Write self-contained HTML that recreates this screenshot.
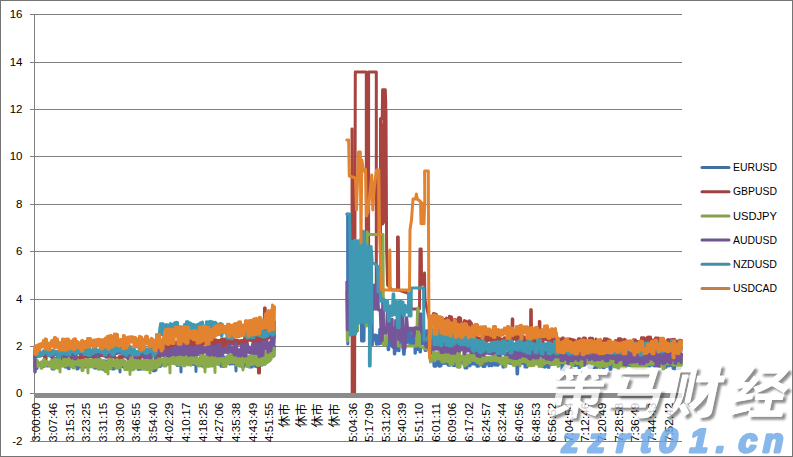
<!DOCTYPE html><html><head><meta charset="utf-8"><style>
html,body{margin:0;padding:0;background:#fff;}
#c{position:relative;width:793px;height:457px;overflow:hidden;background:#fff;}
svg{position:absolute;left:0;top:0;}
</style></head><body><div id="c">
<svg width="793" height="457" viewBox="0 0 793 457" font-family='"Liberation Sans", "Noto Sans CJK SC", sans-serif'>
<path d="M30 14.5H682 M30 62.5H682 M30 109.5H682 M30 156.5H682 M30 204.5H682 M30 251.5H682 M30 299.5H682 M30 346.5H682 M30 441.5H682" stroke="#808080" stroke-width="1" fill="none"/>
<path d="M34.5 14V441.5M30 393.5H34" stroke="#808080" stroke-width="1" fill="none"/>
<text x="22.5" y="17.8" font-size="11.5" text-anchor="end" fill="#000">16</text>
<text x="22.5" y="65.8" font-size="11.5" text-anchor="end" fill="#000">14</text>
<text x="22.5" y="112.8" font-size="11.5" text-anchor="end" fill="#000">12</text>
<text x="22.5" y="159.8" font-size="11.5" text-anchor="end" fill="#000">10</text>
<text x="22.5" y="207.8" font-size="11.5" text-anchor="end" fill="#000">8</text>
<text x="22.5" y="254.8" font-size="11.5" text-anchor="end" fill="#000">6</text>
<text x="22.5" y="302.8" font-size="11.5" text-anchor="end" fill="#000">4</text>
<text x="22.5" y="349.8" font-size="11.5" text-anchor="end" fill="#000">2</text>
<text x="22.5" y="396.8" font-size="11.5" text-anchor="end" fill="#000">0</text>
<text x="22.5" y="444.8" font-size="11.5" text-anchor="end" fill="#000">-2</text>
<text transform="translate(40.3 402.8) rotate(-90)" font-size="11" text-anchor="end" textLength="39.2" lengthAdjust="spacingAndGlyphs" fill="#000">3:00:00</text>
<text transform="translate(56.9 402.8) rotate(-90)" font-size="11" text-anchor="end" textLength="39.2" lengthAdjust="spacingAndGlyphs" fill="#000">3:07:46</text>
<text transform="translate(73.6 402.8) rotate(-90)" font-size="11" text-anchor="end" textLength="39.2" lengthAdjust="spacingAndGlyphs" fill="#000">3:15:31</text>
<text transform="translate(90.2 402.8) rotate(-90)" font-size="11" text-anchor="end" textLength="39.2" lengthAdjust="spacingAndGlyphs" fill="#000">3:23:25</text>
<text transform="translate(106.9 402.8) rotate(-90)" font-size="11" text-anchor="end" textLength="39.2" lengthAdjust="spacingAndGlyphs" fill="#000">3:31:15</text>
<text transform="translate(123.5 402.8) rotate(-90)" font-size="11" text-anchor="end" textLength="39.2" lengthAdjust="spacingAndGlyphs" fill="#000">3:39:00</text>
<text transform="translate(140.1 402.8) rotate(-90)" font-size="11" text-anchor="end" textLength="39.2" lengthAdjust="spacingAndGlyphs" fill="#000">3:46:55</text>
<text transform="translate(156.8 402.8) rotate(-90)" font-size="11" text-anchor="end" textLength="39.2" lengthAdjust="spacingAndGlyphs" fill="#000">3:54:40</text>
<text transform="translate(173.4 402.8) rotate(-90)" font-size="11" text-anchor="end" textLength="39.2" lengthAdjust="spacingAndGlyphs" fill="#000">4:02:29</text>
<text transform="translate(190.1 402.8) rotate(-90)" font-size="11" text-anchor="end" textLength="39.2" lengthAdjust="spacingAndGlyphs" fill="#000">4:10:17</text>
<text transform="translate(206.7 402.8) rotate(-90)" font-size="11" text-anchor="end" textLength="39.2" lengthAdjust="spacingAndGlyphs" fill="#000">4:18:25</text>
<text transform="translate(223.3 402.8) rotate(-90)" font-size="11" text-anchor="end" textLength="39.2" lengthAdjust="spacingAndGlyphs" fill="#000">4:27:06</text>
<text transform="translate(240.0 402.8) rotate(-90)" font-size="11" text-anchor="end" textLength="39.2" lengthAdjust="spacingAndGlyphs" fill="#000">4:35:38</text>
<text transform="translate(256.6 402.8) rotate(-90)" font-size="11" text-anchor="end" textLength="39.2" lengthAdjust="spacingAndGlyphs" fill="#000">4:43:49</text>
<text transform="translate(273.3 402.8) rotate(-90)" font-size="11" text-anchor="end" textLength="39.2" lengthAdjust="spacingAndGlyphs" fill="#000">4:51:55</text>
<text transform="translate(289.0 403.5) rotate(-90)" font-family='"Noto Sans CJK SC", sans-serif' font-size="12" text-anchor="end" fill="#000">休市</text>
<text transform="translate(305.6 403.5) rotate(-90)" font-family='"Noto Sans CJK SC", sans-serif' font-size="12" text-anchor="end" fill="#000">休市</text>
<text transform="translate(322.3 403.5) rotate(-90)" font-family='"Noto Sans CJK SC", sans-serif' font-size="12" text-anchor="end" fill="#000">休市</text>
<text transform="translate(338.9 403.5) rotate(-90)" font-family='"Noto Sans CJK SC", sans-serif' font-size="12" text-anchor="end" fill="#000">休市</text>
<text transform="translate(356.5 402.8) rotate(-90)" font-size="11" text-anchor="end" textLength="39.2" lengthAdjust="spacingAndGlyphs" fill="#000">5:04:36</text>
<text transform="translate(373.1 402.8) rotate(-90)" font-size="11" text-anchor="end" textLength="39.2" lengthAdjust="spacingAndGlyphs" fill="#000">5:17:09</text>
<text transform="translate(389.7 402.8) rotate(-90)" font-size="11" text-anchor="end" textLength="39.2" lengthAdjust="spacingAndGlyphs" fill="#000">5:31:20</text>
<text transform="translate(406.4 402.8) rotate(-90)" font-size="11" text-anchor="end" textLength="39.2" lengthAdjust="spacingAndGlyphs" fill="#000">5:40:39</text>
<text transform="translate(423.0 402.8) rotate(-90)" font-size="11" text-anchor="end" textLength="39.2" lengthAdjust="spacingAndGlyphs" fill="#000">5:51:10</text>
<text transform="translate(439.7 402.8) rotate(-90)" font-size="11" text-anchor="end" textLength="39.2" lengthAdjust="spacingAndGlyphs" fill="#000">6:01:11</text>
<text transform="translate(456.3 402.8) rotate(-90)" font-size="11" text-anchor="end" textLength="39.2" lengthAdjust="spacingAndGlyphs" fill="#000">6:09:06</text>
<text transform="translate(472.9 402.8) rotate(-90)" font-size="11" text-anchor="end" textLength="39.2" lengthAdjust="spacingAndGlyphs" fill="#000">6:17:02</text>
<text transform="translate(489.6 402.8) rotate(-90)" font-size="11" text-anchor="end" textLength="39.2" lengthAdjust="spacingAndGlyphs" fill="#000">6:24:57</text>
<text transform="translate(506.2 402.8) rotate(-90)" font-size="11" text-anchor="end" textLength="39.2" lengthAdjust="spacingAndGlyphs" fill="#000">6:32:44</text>
<text transform="translate(522.9 402.8) rotate(-90)" font-size="11" text-anchor="end" textLength="39.2" lengthAdjust="spacingAndGlyphs" fill="#000">6:40:56</text>
<text transform="translate(539.5 402.8) rotate(-90)" font-size="11" text-anchor="end" textLength="39.2" lengthAdjust="spacingAndGlyphs" fill="#000">6:48:53</text>
<text transform="translate(556.1 402.8) rotate(-90)" font-size="11" text-anchor="end" textLength="39.2" lengthAdjust="spacingAndGlyphs" fill="#000">6:56:52</text>
<text transform="translate(572.8 402.8) rotate(-90)" font-size="11" text-anchor="end" textLength="39.2" lengthAdjust="spacingAndGlyphs" fill="#000">7:04:54</text>
<text transform="translate(589.4 402.8) rotate(-90)" font-size="11" text-anchor="end" textLength="39.2" lengthAdjust="spacingAndGlyphs" fill="#000">7:12:46</text>
<text transform="translate(606.1 402.8) rotate(-90)" font-size="11" text-anchor="end" textLength="39.2" lengthAdjust="spacingAndGlyphs" fill="#000">7:20:49</text>
<text transform="translate(622.7 402.8) rotate(-90)" font-size="11" text-anchor="end" textLength="39.2" lengthAdjust="spacingAndGlyphs" fill="#000">7:28:58</text>
<text transform="translate(639.3 402.8) rotate(-90)" font-size="11" text-anchor="end" textLength="39.2" lengthAdjust="spacingAndGlyphs" fill="#000">7:36:49</text>
<text transform="translate(656.0 402.8) rotate(-90)" font-size="11" text-anchor="end" textLength="39.2" lengthAdjust="spacingAndGlyphs" fill="#000">7:44:43</text>
<text transform="translate(672.6 402.8) rotate(-90)" font-size="11" text-anchor="end" textLength="39.2" lengthAdjust="spacingAndGlyphs" fill="#000">7:52:42</text>
<g fill="none" stroke-width="3" stroke-linejoin="round" stroke-linecap="round">
<path d="M34.5 362.8 35.0 372.0 35.0 368.8 35.5 363.0 36.0 368.5 36.5 362.7 37.0 368.5 37.5 363.3 38.0 363.8 38.5 363.5 39.0 363.9 39.5 363.3 40.0 364.0 40.5 363.2 41.0 364.1 41.5 364.1 42.0 366.9 42.5 364.6 43.0 366.8 43.5 364.4 44.0 366.5 44.5 361.7 45.0 364.5 45.5 361.1 46.0 364.1 46.5 361.6 47.0 365.9 47.5 363.0 48.0 366.1 48.5 362.5 49.0 365.8 49.5 362.5 50.0 364.6 50.5 364.1 51.0 364.6 51.5 364.0 52.0 368.9 52.5 361.5 53.0 369.0 53.5 361.1 54.0 369.2 54.5 361.3 55.0 367.8 55.5 361.3 56.0 367.8 56.5 361.2 57.0 367.1 57.5 362.3 58.0 366.7 58.5 362.6 59.0 367.2 59.5 362.2 60.0 367.2 60.5 362.6 61.0 364.6 61.5 359.2 62.0 364.3 62.5 359.0 63.0 364.6 63.5 358.9 64.0 364.3 64.5 364.2 65.0 367.1 65.5 364.1 66.0 366.9 66.5 364.3 67.0 367.1 67.5 361.6 68.0 368.3 68.5 361.5 69.0 368.8 69.5 364.8 70.0 364.2 70.5 364.5 71.0 364.6 71.5 364.7 72.0 364.6 72.5 364.6 73.0 365.9 73.5 364.9 74.0 365.8 74.5 364.7 75.0 365.7 75.5 364.7 76.0 365.8 76.5 363.3 77.0 369.0 77.5 363.4 78.0 368.8 78.5 360.1 79.0 367.3 79.5 359.9 80.0 366.7 80.5 359.9 81.0 367.1 81.5 359.9 82.0 367.2 82.5 364.6 83.0 367.5 83.5 364.9 84.0 367.1 84.5 362.0 85.0 367.2 85.5 361.8 86.0 366.7 86.5 361.9 87.0 366.8 87.5 361.7 88.0 366.2 88.5 362.9 89.0 366.7 89.5 362.9 90.0 366.6 90.5 363.2 91.0 363.9 91.5 363.8 92.0 363.7 92.5 364.1 93.0 364.0 93.5 363.1 94.0 367.8 94.5 363.3 95.0 368.2 95.5 363.1 96.0 368.0 96.5 363.2 97.0 366.9 97.5 362.9 98.0 367.3 98.5 362.4 99.0 367.2 99.5 362.7 100.0 367.4 100.5 362.7 101.0 368.7 101.5 363.0 102.0 368.7 102.5 363.0 103.0 369.4 103.5 364.8 104.0 369.1 104.5 364.3 105.0 369.1 105.5 361.4 106.0 369.0 106.5 361.1 107.0 369.3 107.5 361.4 108.0 369.5 108.5 364.7 109.0 366.8 109.5 364.9 110.0 366.7 110.5 365.0 111.0 366.8 111.5 364.7 112.0 368.9 112.5 364.1 113.0 368.9 113.5 364.3 114.0 369.0 114.5 365.1 115.0 366.7 115.5 365.0 116.0 366.9 116.5 364.9 117.0 365.7 117.5 364.6 118.0 365.5 118.5 364.8 119.0 366.0 119.5 364.5 120.0 372.0 120.0 365.9 120.5 360.7 121.0 365.7 121.5 360.7 122.0 365.6 122.5 360.7 123.0 367.0 123.5 361.0 124.0 367.2 124.5 360.9 125.0 368.8 125.5 363.0 126.0 369.1 126.5 362.9 127.0 369.2 127.5 363.3 128.0 368.7 128.5 362.9 129.0 364.9 129.5 361.4 130.0 364.7 130.5 361.1 131.0 365.1 131.5 361.5 132.0 365.3 132.5 362.3 133.0 368.2 133.5 362.6 134.0 368.5 134.5 360.4 135.0 365.3 135.5 360.9 136.0 365.5 136.5 360.8 137.0 365.5 137.5 362.6 138.0 369.4 138.5 362.5 139.0 369.1 139.5 362.4 140.0 369.3 140.5 364.6 141.0 368.9 141.5 364.8 142.0 369.1 142.5 364.9 143.0 368.7 143.5 364.8 144.0 368.8 144.5 364.6 145.0 368.1 145.5 360.5 146.0 368.4 146.5 360.2 147.0 368.4 147.5 360.3 148.0 368.3 148.5 365.2 149.0 368.3 149.5 365.0 150.0 368.1 150.5 364.8 151.0 365.6 151.5 361.9 152.0 365.7 152.5 361.9 153.0 370.7 153.5 360.3 154.0 370.9 154.5 359.9 155.0 370.8 155.5 359.8 156.0 370.2 156.5 359.7 157.0 366.9 157.5 360.3 158.0 366.6 158.5 360.0 159.0 366.6 159.5 360.0 160.0 366.6 160.5 360.1 161.0 366.1 161.5 359.6 162.0 364.5 162.5 361.3 163.0 363.9 163.5 360.8 164.0 363.7 164.5 360.6 165.0 363.3 165.5 360.8 166.0 364.2 166.5 358.4 167.0 363.8 167.5 358.0 168.0 364.2 168.5 358.4 169.0 362.5 169.5 358.6 170.0 362.3 170.5 359.1 171.0 362.7 171.5 359.0 172.0 362.2 172.5 358.1 173.0 363.4 173.5 358.3 174.0 363.4 174.5 359.2 175.0 362.4 175.5 359.5 176.0 362.4 176.5 359.2 177.0 365.4 177.5 358.4 178.0 365.6 178.5 358.2 179.0 365.3 179.5 358.0 180.0 361.8 180.5 357.1 181.0 372.0 181.0 361.5 181.5 357.4 182.0 361.4 182.5 357.2 183.0 361.8 183.5 357.4 184.0 363.2 184.5 357.9 185.0 363.4 185.5 357.9 186.0 363.2 186.5 358.4 187.0 362.9 187.5 358.4 188.0 363.0 188.5 358.4 189.0 362.9 189.5 358.5 190.0 363.2 190.5 361.0 191.0 364.4 191.5 361.3 192.0 364.4 192.5 361.5 193.0 364.5 193.5 357.5 194.0 364.1 194.5 357.3 195.0 364.1 195.5 357.4 196.0 371.5 196.0 364.5 196.5 357.1 197.0 364.2 197.5 359.6 198.0 365.6 198.5 359.7 199.0 365.7 199.5 359.9 200.0 365.5 200.5 359.8 201.0 365.8 201.5 361.5 202.0 366.0 202.5 361.3 203.0 365.8 203.5 361.1 204.0 366.0 204.5 358.6 205.0 362.5 205.5 358.6 206.0 362.7 206.5 359.0 207.0 362.4 207.5 358.6 208.0 362.6 208.5 361.8 209.0 362.0 209.5 361.5 210.0 361.8 210.5 361.5 211.0 361.8 211.5 358.8 212.0 364.6 212.5 358.5 213.0 365.0 213.5 358.5 214.0 364.6 214.5 358.2 215.0 364.0 215.5 360.8 216.0 363.6 216.5 360.9 217.0 363.8 217.5 361.1 218.0 364.0 218.5 360.9 219.0 363.9 219.5 357.3 220.0 363.6 220.5 357.2 221.0 366.3 221.5 356.4 222.0 366.2 222.5 356.5 223.0 366.4 223.5 356.6 224.0 366.4 224.5 360.6 225.0 364.1 225.5 360.3 226.0 364.3 226.5 360.4 227.0 363.3 227.5 356.7 228.0 363.5 228.5 357.0 229.0 363.7 229.5 356.0 230.0 364.2 230.5 356.5 231.0 363.7 231.5 356.3 232.0 363.7 232.5 356.1 233.0 363.8 233.5 357.5 234.0 363.9 234.5 357.6 235.0 363.8 235.5 357.5 236.0 371.0 236.0 362.6 236.5 356.6 237.0 362.7 237.5 356.2 238.0 362.5 238.5 356.2 239.0 362.4 239.5 356.3 240.0 364.1 240.5 360.5 241.0 364.1 241.5 360.3 242.0 366.9 242.5 359.3 243.0 367.1 243.5 359.1 244.0 366.9 244.5 359.3 245.0 365.0 245.5 359.9 246.0 364.9 246.5 360.0 247.0 365.4 247.5 359.8 248.0 365.2 248.5 356.5 249.0 366.9 249.5 356.3 250.0 367.1 250.5 356.3 251.0 366.8 251.5 356.1 252.0 367.1 252.5 360.3 253.0 364.9 253.5 360.0 254.0 364.5 254.5 356.7 255.0 366.3 255.5 356.4 256.0 366.4 256.5 356.9 257.0 366.8 257.5 356.7 258.0 366.4 258.5 358.9 259.0 363.7 259.5 358.8 260.0 363.9 260.5 358.6 261.0 363.9 261.5 358.6 262.0 365.2 262.5 353.8 263.0 364.5 263.5 353.0 264.0 363.7 264.5 352.1 265.0 364.0 265.5 356.9 266.0 362.9 266.5 355.9 267.0 362.3 267.5 354.9 268.0 361.6 268.5 352.5 269.0 360.5 269.5 351.8 270.0 355.4 270.5 349.0 271.0 354.4 271.5 348.5 272.0 354.1 272.5 347.4 273.0 356.7 273.5 346.7 274.0 355.9 274.5 346.1" stroke="#4274b4"/>
<path d="M346.8 214.0 347.6 214.0 347.8 344.0 348.5 300.0 361.0 300.0 361.5 341.0 364.0 341.0 364.5 300.0 372.0 300.0 372.4 345.0 372.5 335.6 373.6 335.6 374.2 339.9 374.7 339.9 375.1 334.9 375.6 334.9 376.3 344.2 377.2 344.2 377.5 335.8 378.4 335.8 379.1 344.1 379.4 344.1 379.7 329.4 381.1 329.4 381.8 343.3 383.1 343.3 383.7 342.2 385.0 342.2 385.4 342.5 386.2 342.5 386.9 335.6 387.7 335.6 388.1 349.7 388.8 349.7 389.1 340.0 390.3 340.0 391.1 345.2 392.1 345.2 392.7 328.3 393.9 328.3 394.3 354.0 394.9 354.0 395.4 330.3 396.2 330.3 396.8 350.3 397.2 350.3 397.7 330.0 398.3 330.0 398.6 350.8 399.0 350.8 399.5 342.3 400.3 342.3 400.9 341.1 401.3 341.1 401.5 339.7 402.9 339.7 403.5 354.3 404.2 354.3 405.0 341.1 406.3 341.1 406.6 342.4 407.3 342.4 407.9 328.3 409.4 328.3 410.0 344.7 410.5 344.7 411.1 335.9 412.1 335.9 412.5 344.6 413.2 344.6 413.6 328.8 414.7 328.8 415.0 353.2 415.4 353.2 416.0 335.5 416.9 335.5 417.1 349.5 417.8 349.5 418.1 326.1 419.6 326.1 419.9 351.9 420.5 351.9 421.1 328.0 421.9 328.0 422.3 343.7 422.6 343.7 423.0 336.1 424.5 336.1 425.0 350.4 426.1 350.4 426.5 330.8 427.4 330.8 428.2 347.4 428.8 347.4 429.4 344.5 430.0 344.5 430.5 353.7 431.1 353.7 431.5 336.5 432.2 336.5 433.5 358.5 434.0 366.2 434.5 358.4 435.0 366.3 435.5 358.2 436.0 366.2 436.5 360.0 437.0 363.4 437.5 359.6 438.0 363.9 438.5 355.5 439.0 366.2 439.5 355.5 440.0 366.3 440.5 355.5 441.0 366.0 441.5 357.5 442.0 363.6 442.5 357.7 443.0 363.4 443.5 357.4 444.0 363.3 444.5 357.6 445.0 363.5 445.5 356.9 446.0 363.1 446.5 356.8 447.0 363.0 447.5 357.3 448.0 365.1 448.5 357.6 449.0 365.4 449.5 357.4 450.0 365.3 450.5 357.5 451.0 363.7 451.5 357.1 452.0 364.0 452.5 357.5 453.0 365.5 453.5 357.6 454.0 365.7 454.5 357.3 455.0 365.5 455.5 357.7 456.0 365.4 456.5 358.0 457.0 363.1 457.5 357.0 458.0 362.8 458.5 356.8 459.0 362.9 459.5 357.1 460.0 363.2 460.5 356.8 461.0 363.1 461.5 358.7 462.0 363.0 462.5 358.4 463.0 362.9 463.5 358.8 464.0 363.1 464.5 358.6 465.0 368.1 465.5 358.6 466.0 368.0 466.5 358.6 467.0 367.9 467.5 358.2 468.0 363.4 468.5 358.5 469.0 363.3 469.5 358.9 470.0 366.0 470.0 363.6 470.5 358.9 471.0 363.7 471.5 358.8 472.0 364.0 472.5 359.6 473.0 363.9 473.5 359.3 474.0 363.9 474.5 357.9 475.0 364.2 475.5 358.1 476.0 364.0 476.5 361.4 477.0 366.3 477.5 361.6 478.0 366.3 478.5 361.4 479.0 366.1 479.5 358.5 480.0 364.4 480.5 358.2 481.0 364.7 481.5 358.3 482.0 364.8 482.5 358.5 483.0 366.6 483.5 361.4 484.0 366.5 484.5 361.3 485.0 366.4 485.5 358.5 486.0 364.2 486.5 358.6 487.0 363.6 487.5 358.8 488.0 364.1 488.5 358.3 489.0 365.9 489.5 358.2 490.0 365.6 490.5 358.1 491.0 365.5 491.5 358.2 492.0 365.8 492.5 357.6 493.0 362.9 493.5 357.4 494.0 362.9 494.5 357.5 495.0 365.2 495.5 359.2 496.0 365.1 496.5 359.3 497.0 365.2 497.5 359.2 498.0 365.3 498.5 359.3 499.0 363.7 499.5 358.3 500.0 363.8 500.5 358.3 501.0 363.7 501.5 358.4 502.0 363.8 502.5 359.3 503.0 367.2 503.5 359.5 504.0 366.7 504.5 359.6 505.0 366.9 505.5 359.5 506.0 362.6 506.5 357.4 507.0 362.2 507.5 357.7 508.0 362.4 508.5 356.1 509.0 363.0 509.5 356.4 510.0 363.4 510.5 356.2 511.0 362.9 511.5 356.2 512.0 363.4 512.5 358.1 513.0 362.9 513.5 357.9 514.0 362.9 514.5 358.0 515.0 364.7 515.5 357.2 516.0 364.6 516.5 356.9 517.0 374.0 517.0 364.7 517.5 356.7 517.6 374.0 518.0 364.7 518.5 357.7 519.0 363.7 519.5 357.6 520.0 363.9 520.5 357.3 521.0 363.2 521.5 356.3 522.0 363.4 522.5 356.3 523.0 363.1 523.5 356.6 524.0 363.3 524.5 358.4 525.0 367.1 525.5 358.6 526.0 366.8 526.5 358.5 527.0 367.1 527.5 359.7 528.0 365.4 528.5 359.4 529.0 365.5 529.5 359.8 530.0 365.0 530.5 358.1 531.0 363.6 531.5 358.1 532.0 363.5 532.5 358.5 533.0 363.6 533.5 358.3 534.0 363.8 534.5 356.8 535.0 363.1 535.5 357.2 536.0 363.4 536.5 357.0 537.0 363.5 537.5 356.8 538.0 363.3 538.5 356.8 539.0 365.1 539.5 356.8 540.0 365.3 540.5 356.8 541.0 365.1 541.5 357.1 542.0 365.4 542.5 360.9 543.0 366.6 543.5 360.9 544.0 366.9 544.5 360.8 545.0 367.2 545.5 358.7 546.0 366.5 546.5 358.4 547.0 366.3 547.5 358.3 548.0 367.3 548.5 356.5 549.0 367.5 549.5 356.9 550.0 364.5 550.5 357.8 551.0 364.5 551.5 357.5 552.0 364.5 552.5 357.6 553.0 364.2 553.5 357.4 554.0 362.8 554.5 358.4 555.0 363.1 555.5 358.7 556.0 362.7 556.5 358.7 557.0 362.7 557.5 356.7 558.0 364.3 558.5 356.7 559.0 363.8 559.5 356.9 560.0 364.2 560.5 357.1 561.0 364.4 561.5 358.9 562.0 369.9 562.5 358.8 563.0 369.8 563.5 358.7 564.0 370.1 564.5 359.2 565.0 366.2 565.5 359.5 566.0 366.0 566.5 359.2 567.0 366.0 567.5 359.4 568.0 365.8 568.5 359.3 569.0 365.7 569.5 357.7 570.0 365.6 570.5 358.0 571.0 366.0 571.5 357.9 572.0 365.2 572.5 357.8 573.0 365.4 573.5 357.9 574.0 365.2 574.5 357.4 575.0 365.7 575.5 360.3 576.0 365.3 576.5 360.6 577.0 365.3 577.5 360.8 578.0 365.4 578.5 360.3 579.0 367.8 579.5 358.2 580.0 367.4 580.5 358.4 581.0 365.3 581.5 358.0 582.0 365.7 582.5 358.2 583.0 365.5 583.5 357.8 584.0 365.3 584.5 357.9 585.0 362.7 585.5 362.1 586.0 362.7 586.5 362.0 587.0 362.6 587.5 362.0 588.0 362.7 588.5 361.3 589.0 367.6 589.5 360.8 590.0 367.2 590.5 361.2 591.0 367.6 591.5 360.3 592.0 367.0 592.5 360.0 593.0 366.9 593.5 360.2 594.0 367.6 594.5 357.6 595.0 367.3 595.5 357.9 596.0 367.2 596.5 358.0 597.0 367.4 597.5 359.0 598.0 366.9 598.5 358.7 599.0 366.6 599.5 358.9 600.0 363.7 600.5 359.3 601.0 363.8 601.5 359.4 602.0 363.6 602.5 358.0 603.0 367.8 603.5 357.8 604.0 368.3 604.5 358.1 605.0 366.8 605.5 357.9 606.0 366.7 606.5 357.7 607.0 366.0 607.5 357.9 608.0 365.7 608.5 358.1 609.0 365.5 609.5 358.4 610.0 369.4 610.5 362.8 611.0 369.3 611.5 362.9 612.0 365.0 612.5 360.6 613.0 365.0 613.5 360.5 614.0 365.2 614.5 360.6 615.0 364.0 615.5 358.3 616.0 364.1 616.5 358.4 617.0 366.9 617.5 358.9 618.0 366.4 618.5 358.9 619.0 366.4 619.5 358.9 620.0 366.9 620.5 359.2 621.0 366.6 621.5 359.2 622.0 367.0 622.5 359.4 623.0 366.9 623.5 358.6 624.0 366.7 624.5 358.6 625.0 367.2 625.5 358.5 626.0 366.8 626.5 362.9 627.0 363.6 627.5 362.7 628.0 364.0 628.5 360.5 629.0 365.4 629.5 360.5 630.0 365.6 630.5 360.6 631.0 365.1 631.5 358.5 632.0 365.3 632.5 358.4 633.0 365.6 633.5 358.3 634.0 364.8 634.5 358.0 635.0 364.7 635.5 357.9 636.0 368.4 636.5 357.9 637.0 368.5 637.5 357.9 638.0 367.8 638.5 361.5 639.0 368.1 639.5 361.1 640.0 367.8 640.5 361.3 641.0 367.9 641.5 360.1 642.0 367.9 642.5 360.4 643.0 368.1 643.5 360.1 644.0 368.3 644.5 360.6 645.0 364.4 645.5 362.0 646.0 364.4 646.5 361.9 647.0 366.2 647.5 359.8 648.0 365.8 648.5 359.8 649.0 366.2 649.5 359.8 650.0 366.2 650.5 359.6 651.0 364.7 651.5 363.0 652.0 364.7 652.5 362.9 653.0 364.6 653.5 362.2 654.0 366.3 654.5 362.4 655.0 366.4 655.5 362.5 656.0 366.1 656.5 362.7 657.0 365.7 657.5 362.9 658.0 365.9 658.5 362.8 659.0 365.9 659.5 362.7 660.0 365.7 660.5 360.7 661.0 365.2 661.5 361.1 662.0 365.5 662.5 360.7 663.0 365.2 663.5 360.9 664.0 367.4 664.5 363.5 665.0 367.4 665.5 363.5 666.0 367.3 666.5 362.7 667.0 365.7 667.5 363.1 668.0 365.7 668.5 363.1 669.0 366.1 669.5 363.0 670.0 365.8 670.5 361.8 671.0 365.4 671.5 361.8 672.0 365.6 672.5 361.4 673.0 368.4 673.5 363.5 674.0 368.8 674.5 363.7 675.0 368.8 675.5 363.2 676.0 369.0 676.5 363.3 677.0 368.2 677.5 363.0 678.0 368.6 678.5 363.0 679.0 368.4 679.5 363.1 680.0 368.4 680.5 359.3 681.0 365.7 681.5 359.2" stroke="#4274b4"/>
<path d="M34.5 357.5 35.0 358.2 35.5 357.3 36.0 357.9 36.5 356.4 37.0 356.2 37.5 356.3 38.0 356.2 38.5 355.8 39.0 355.8 39.5 356.2 40.0 355.9 40.5 356.0 41.0 355.9 41.5 355.1 42.0 355.3 42.5 355.0 43.0 355.2 43.5 354.9 44.0 355.2 44.5 356.3 45.0 359.1 45.5 356.3 46.0 359.5 46.5 354.0 47.0 355.5 47.5 353.8 48.0 355.4 48.5 354.0 49.0 355.6 49.5 354.5 50.0 355.5 50.5 355.0 51.0 355.9 51.5 354.7 52.0 355.8 52.5 358.7 53.0 359.8 53.5 358.4 54.0 359.7 54.5 358.7 55.0 359.6 55.5 358.2 56.0 358.7 56.5 357.6 57.0 358.8 57.5 358.1 58.0 359.1 58.5 358.0 59.0 358.8 59.5 357.7 60.0 358.7 60.5 355.1 61.0 358.6 61.5 355.3 62.0 358.5 62.5 355.1 63.0 358.5 63.5 355.2 64.0 359.6 64.5 355.1 65.0 360.0 65.5 355.4 66.0 355.1 66.5 352.4 67.0 355.2 67.5 352.4 68.0 355.9 68.5 354.8 69.0 355.9 69.5 354.8 70.0 355.4 70.5 354.0 71.0 358.5 71.5 354.0 72.0 358.6 72.5 354.3 73.0 358.6 73.5 356.9 74.0 359.6 74.5 356.7 75.0 359.7 75.5 356.6 76.0 359.4 76.5 357.4 77.0 357.9 77.5 357.9 78.0 357.7 78.5 357.8 79.0 357.4 79.5 357.8 80.0 357.7 80.5 355.9 81.0 358.8 81.5 355.7 82.0 358.5 82.5 355.7 83.0 358.7 83.5 357.1 84.0 357.0 84.5 357.1 85.0 357.0 85.5 357.1 86.0 357.1 86.5 357.0 87.0 357.3 87.5 357.5 88.0 357.5 88.5 357.5 89.0 357.4 89.5 354.4 90.0 356.4 90.5 353.9 91.0 356.2 91.5 354.2 92.0 356.4 92.5 357.3 93.0 357.5 93.5 357.4 94.0 357.4 94.5 357.7 95.0 357.7 95.5 356.2 96.0 357.6 96.5 356.1 97.0 358.2 97.5 356.0 98.0 355.6 98.5 355.3 99.0 355.4 99.5 355.5 100.0 355.3 100.5 355.4 101.0 355.5 101.5 355.3 102.0 355.6 102.5 355.7 103.0 355.7 103.5 355.7 104.0 355.6 104.5 356.0 105.0 355.9 105.5 355.9 106.0 357.3 106.5 356.8 107.0 356.8 107.5 357.1 108.0 357.2 108.5 356.9 109.0 354.6 109.5 354.1 110.0 354.9 110.5 353.8 111.0 355.0 111.5 355.7 112.0 355.8 112.5 355.5 113.0 355.8 113.5 355.7 114.0 355.5 114.5 355.9 115.0 358.5 115.5 358.5 116.0 358.1 116.5 358.5 117.0 358.5 117.5 358.4 118.0 357.9 118.5 358.1 119.0 358.8 119.5 356.5 120.0 358.8 120.5 356.7 121.0 358.7 121.5 356.8 122.0 358.8 122.5 353.7 123.0 356.4 123.5 353.9 124.0 356.8 124.5 353.7 125.0 354.9 125.5 354.5 126.0 355.1 126.5 354.7 127.0 355.3 127.5 354.8 128.0 355.2 128.5 355.5 129.0 356.7 129.5 355.8 130.0 356.7 130.5 355.9 131.0 359.2 131.5 358.5 132.0 358.7 132.5 358.8 133.0 359.0 133.5 358.6 134.0 358.6 134.5 357.6 135.0 357.7 135.5 357.6 136.0 357.4 136.5 357.3 137.0 359.3 137.5 357.7 138.0 359.2 138.5 357.8 139.0 359.2 139.5 357.7 140.0 359.3 140.5 354.6 141.0 357.1 141.5 354.3 142.0 356.9 142.5 354.3 143.0 355.4 143.5 355.4 144.0 355.4 144.5 355.7 145.0 355.3 145.5 355.5 146.0 355.5 146.5 355.4 147.0 358.2 147.5 355.3 148.0 358.4 148.5 355.1 149.0 355.6 149.5 355.5 150.0 355.4 150.5 355.5 151.0 355.5 151.5 355.8 152.0 354.9 152.5 354.7 153.0 355.1 153.5 354.3 154.0 354.9 154.5 354.1 155.0 354.4 155.5 352.7 156.0 357.9 156.5 355.1 157.0 357.2 157.5 353.9 158.0 357.3 158.5 352.9 159.0 356.9 159.5 345.4 160.0 356.8 160.5 344.7 161.0 356.0 161.5 344.2 162.0 351.1 162.5 346.7 163.0 350.7 163.5 346.3 164.0 354.0 164.5 346.1 165.0 353.2 165.5 345.5 166.0 352.7 166.5 344.2 167.0 352.4 167.5 343.5 168.0 351.7 168.5 342.9 169.0 349.4 169.5 345.0 170.0 348.5 170.5 344.7 171.0 348.3 171.5 343.6 172.0 348.1 172.5 343.3 173.0 347.9 173.5 342.6 174.0 347.0 174.5 342.3 175.0 346.3 175.5 342.2 176.0 346.4 176.5 342.0 177.0 346.2 177.5 342.0 178.0 344.9 178.5 341.0 179.0 344.9 179.5 341.3 180.0 345.3 180.5 341.0 181.0 345.2 181.5 341.1 182.0 345.0 182.5 339.3 183.0 345.3 183.5 339.6 184.0 345.5 184.5 339.3 185.0 346.5 185.5 339.6 186.0 346.7 186.5 339.4 187.0 346.7 187.5 339.2 188.0 346.5 188.5 337.3 189.0 344.2 189.5 337.2 190.0 343.8 190.5 338.6 191.0 347.9 191.5 338.6 192.0 347.9 192.5 338.3 193.0 347.6 193.5 338.3 194.0 348.2 194.5 342.6 195.0 347.9 195.5 342.5 196.0 348.4 196.5 342.7 197.0 346.4 197.5 338.5 198.0 346.7 198.5 338.1 199.0 346.5 199.5 338.1 200.0 346.7 200.5 338.4 201.0 347.9 201.5 342.8 202.0 348.1 202.5 342.7 203.0 343.9 203.5 339.0 204.0 344.1 204.5 338.8 205.0 344.1 205.5 338.4 206.0 343.9 206.5 338.5 207.0 344.1 207.5 341.0 208.0 346.9 208.5 341.4 209.0 346.8 209.5 341.3 210.0 344.1 210.5 341.9 211.0 344.4 211.5 341.7 212.0 348.0 212.5 339.7 213.0 348.1 213.5 339.3 214.0 346.2 214.5 339.9 215.0 346.2 215.5 339.7 216.0 346.2 216.5 340.1 217.0 346.7 217.5 340.7 218.0 346.5 218.5 340.6 219.0 346.2 219.5 340.6 220.0 346.5 220.5 340.2 221.0 345.9 221.5 338.8 222.0 345.3 222.5 338.9 223.0 345.7 223.5 338.9 224.0 345.3 224.5 338.9 225.0 345.4 225.5 339.0 226.0 345.1 226.5 338.8 227.0 343.9 227.5 337.8 228.0 343.7 228.5 338.0 229.0 343.6 229.5 337.9 230.0 343.4 230.5 337.4 231.0 343.8 231.5 337.9 232.0 343.5 232.5 337.9 233.0 343.8 233.5 338.2 234.0 343.8 234.5 340.1 235.0 344.3 235.5 340.2 236.0 344.4 236.5 340.2 237.0 344.6 237.5 340.2 238.0 344.3 238.5 340.7 239.0 344.2 239.5 341.1 240.0 344.0 240.5 340.7 241.0 344.3 241.5 340.5 242.0 344.6 242.5 340.4 243.0 344.4 243.5 340.9 244.0 344.1 244.5 338.4 245.0 344.6 245.5 338.6 246.0 344.6 246.5 338.9 247.0 344.3 247.5 338.6 248.0 340.4 248.5 337.5 249.0 340.3 249.5 337.6 250.0 340.1 250.5 338.8 251.0 340.5 251.5 338.9 252.0 340.4 252.5 336.4 253.0 342.4 253.5 336.4 254.0 342.6 254.5 336.6 255.0 342.3 255.5 334.6 256.0 342.0 256.5 334.7 257.0 342.4 257.5 334.7 258.0 343.9 258.5 373.0 258.5 339.4 259.0 344.0 259.5 373.0 259.5 338.1 260.0 343.6 260.5 337.2 261.0 341.9 261.5 333.4 262.0 341.5 262.5 331.9 263.0 341.5 263.5 330.6 264.0 341.6 264.5 308.0 264.5 329.6 265.0 340.7 265.2 308.0 265.5 328.2 266.0 340.7 266.5 327.0 267.0 340.3 267.5 328.1 268.0 338.3 268.5 327.3 269.0 338.0 269.5 329.1 270.0 336.8 270.5 328.1 271.0 336.2 271.5 327.5 272.0 336.1 272.5 322.9 273.0 337.9 273.5 321.9 274.0 337.6 274.5 321.7" stroke="#a8443f"/>
<path d="M352.0 129.0 352.2 396.0 354.6 396.0 355.3 72.0 366.3 72.0 366.3 300.0 368.6 300.0 368.6 72.0 376.3 72.0 376.3 290.0 380.5 290.0 380.5 118.6 382.2 118.6 382.6 89.7 385.3 89.7 385.8 105.0 380.2 222.0 381.6 125.0 382.8 224.0 384.0 100.0 385.0 222.0 386.0 110.0 386.6 250.0 387.6 285.0 392.0 290.0 397.5 290.0 397.5 237.0 398.3 237.0 398.7 290.0 410.5 294.0 411.0 309.0 419.5 309.0 420.0 249.0 421.2 249.0 421.6 285.0 424.5 273.0 425.0 300.0 429.0 318.0 433.0 316.0 433.5 313.6 434.0 316.4 434.5 313.7 435.0 316.6 435.5 313.9 436.0 316.6 436.5 314.5 437.0 316.8 437.5 317.3 438.0 317.3 438.5 317.5 439.0 317.5 439.5 317.7 440.0 317.6 440.5 317.7 441.0 317.8 441.5 319.3 442.0 319.3 442.5 319.1 443.0 319.1 443.5 319.5 444.0 320.3 444.5 319.6 445.0 320.6 445.5 319.7 446.0 320.3 446.5 318.0 447.0 320.6 447.5 318.6 448.0 321.1 448.5 318.6 449.0 323.4 449.5 316.3 450.0 323.5 450.5 316.7 451.0 324.2 451.5 317.1 452.0 320.2 452.5 320.1 453.0 320.3 453.5 320.4 454.0 320.8 454.5 319.7 455.0 324.3 455.5 319.6 456.0 324.3 456.5 320.2 457.0 324.5 457.5 320.2 458.0 322.3 458.5 317.7 459.0 322.5 459.5 317.6 460.0 322.7 460.5 317.9 461.0 323.0 461.5 322.5 462.0 328.5 462.5 322.9 463.0 328.9 463.5 323.3 464.0 326.1 464.5 320.6 465.0 326.2 465.5 321.2 466.0 326.2 466.5 321.3 467.0 323.7 467.5 323.6 468.0 323.8 468.5 324.3 469.0 325.7 469.5 320.7 470.0 326.1 470.5 321.8 471.0 327.6 471.5 323.3 472.0 329.4 472.5 325.2 473.0 333.9 473.5 330.1 474.0 335.7 474.5 331.7 475.0 337.3 475.5 333.2 476.0 337.9 476.5 332.7 477.0 339.9 477.5 334.0 478.0 341.9 478.5 338.3 479.0 344.5 479.5 338.2 480.0 344.7 480.5 338.0 481.0 344.8 481.5 338.4 482.0 342.8 482.5 338.9 483.0 342.9 483.5 338.4 484.0 343.0 484.5 338.4 485.0 343.0 485.5 334.9 486.0 341.6 486.5 335.2 487.0 341.3 487.5 334.7 488.0 339.8 488.5 337.0 489.0 340.2 489.5 336.5 490.0 340.0 490.5 336.9 491.0 340.0 491.5 336.5 492.0 343.8 492.5 336.3 493.0 343.8 493.5 336.0 494.0 343.5 494.5 334.6 495.0 339.8 495.5 334.3 496.0 340.0 496.5 335.8 497.0 339.9 497.5 335.7 498.0 340.4 498.5 335.8 499.0 340.3 499.5 338.8 500.0 342.8 500.5 338.7 501.0 342.9 501.5 338.9 502.0 341.6 502.5 339.4 503.0 341.8 503.5 339.5 504.0 341.7 504.5 337.7 505.0 340.1 505.5 338.2 506.0 339.9 506.5 338.2 507.0 340.1 507.5 337.8 508.0 341.3 508.5 336.2 509.0 341.5 509.5 336.3 510.0 346.1 510.5 333.9 511.0 346.0 511.5 334.2 512.0 345.9 512.2 319.0 512.5 336.7 512.8 319.0 513.0 339.1 513.5 336.7 514.0 339.2 514.5 336.5 515.0 338.9 515.5 336.8 516.0 339.4 516.5 336.5 517.0 339.5 517.5 336.2 518.0 339.2 518.5 336.5 519.0 339.0 519.5 335.9 520.0 343.4 520.5 336.3 521.0 343.3 521.5 336.0 522.0 343.3 522.5 336.3 523.0 343.1 523.5 336.8 524.0 340.3 524.5 337.1 525.0 339.8 525.5 338.6 526.0 341.8 526.5 338.9 527.0 341.4 527.5 338.7 528.0 341.4 528.5 338.6 529.0 341.5 529.5 335.5 530.0 342.2 530.5 335.2 530.7 309.7 531.0 342.1 531.3 309.7 531.5 335.3 532.0 342.2 532.5 336.3 533.0 344.0 533.5 336.3 534.0 344.0 534.5 336.8 535.0 344.4 535.5 336.3 536.0 342.1 536.5 337.3 537.0 342.1 537.5 337.2 538.0 339.4 538.5 337.1 539.0 339.6 539.3 321.4 539.5 337.2 539.9 321.4 540.0 339.6 540.5 337.4 541.0 341.7 541.5 335.3 542.0 342.2 542.5 335.3 543.0 341.8 543.5 338.9 544.0 339.6 544.5 338.9 545.0 339.3 545.5 339.2 546.0 339.6 546.5 336.8 547.0 340.1 547.5 336.2 548.0 340.4 548.5 336.8 549.0 340.5 549.5 336.5 550.0 340.4 550.5 338.5 551.0 341.4 551.5 338.9 552.0 341.5 552.5 338.8 553.0 341.6 553.5 338.5 554.0 341.6 554.5 337.4 555.0 341.8 555.5 337.8 556.0 342.1 556.5 338.1 557.0 344.1 557.5 338.5 558.0 344.4 558.5 339.3 559.0 345.2 559.5 339.0 560.0 345.6 560.5 339.1 561.0 345.7 561.5 339.1 562.0 345.9 562.5 338.1 563.0 342.5 563.5 338.1 564.0 342.1 564.5 342.6 565.0 343.8 565.5 342.6 566.0 343.3 566.5 342.4 567.0 343.5 567.5 339.1 568.0 344.8 568.5 338.9 569.0 344.8 569.5 339.0 570.0 344.8 570.5 339.0 571.0 345.2 571.5 339.4 572.0 345.4 572.5 339.6 573.0 345.4 573.5 340.4 574.0 345.5 574.5 340.1 575.0 345.3 575.5 341.1 576.0 344.9 576.5 340.9 577.0 344.7 577.5 340.8 578.0 344.9 578.5 338.8 579.0 346.7 579.5 338.7 580.0 346.7 580.5 338.9 581.0 347.1 581.5 341.3 582.0 347.2 582.5 341.5 583.0 346.8 583.5 337.9 584.0 347.0 584.5 338.0 585.0 347.0 585.5 338.3 586.0 346.9 586.5 341.2 587.0 344.4 587.5 341.3 588.0 344.6 588.5 341.4 589.0 344.7 589.5 338.2 590.0 345.0 590.5 338.0 591.0 345.0 591.5 338.4 592.0 345.2 592.5 338.3 593.0 344.2 593.5 342.6 594.0 344.4 594.5 342.1 595.0 344.3 595.5 342.5 596.0 339.0 596.0 344.0 596.5 342.3 597.0 344.6 597.5 340.6 598.0 344.5 598.5 340.5 599.0 344.7 599.5 340.8 600.0 344.9 600.5 340.6 601.0 346.0 601.5 340.8 602.0 346.1 602.5 341.6 603.0 343.9 603.5 341.4 604.0 344.2 604.5 338.7 605.0 344.7 605.5 338.8 606.0 344.7 606.5 338.9 607.0 344.9 607.5 339.0 608.0 342.5 608.5 342.5 609.0 343.0 609.5 342.1 610.0 340.0 610.0 342.6 610.5 342.3 611.0 342.4 611.5 342.6 612.0 346.5 612.5 342.6 613.0 346.4 613.5 342.6 614.0 346.3 614.5 342.1 615.0 342.4 615.5 340.6 616.0 342.5 616.5 340.7 617.0 342.6 617.5 340.6 618.0 342.4 618.5 338.7 619.0 343.9 619.5 338.7 620.0 344.3 620.5 338.8 621.0 344.4 621.5 339.2 622.0 346.9 622.5 342.5 623.0 346.9 623.5 342.3 624.0 345.8 624.5 339.3 625.0 345.9 625.5 339.8 626.0 345.8 626.5 342.1 627.0 345.6 627.5 342.3 628.0 345.8 628.5 342.3 629.0 345.4 629.5 341.8 630.0 346.8 630.5 342.1 631.0 346.7 631.5 342.1 632.0 346.6 632.5 342.1 633.0 345.8 633.5 339.8 634.0 345.7 634.5 339.9 635.0 345.6 635.5 340.1 636.0 343.2 636.5 342.1 637.0 343.4 637.5 341.6 638.0 343.6 638.5 341.6 639.0 342.2 639.5 341.6 640.0 342.0 640.5 341.1 641.0 341.9 641.5 337.7 642.0 345.1 642.5 337.8 643.0 345.2 643.5 337.7 644.0 345.1 644.5 337.9 645.0 345.4 645.5 339.6 646.0 342.6 646.5 339.4 647.0 342.8 647.5 337.3 648.0 345.6 648.5 337.1 649.0 345.6 649.5 337.6 650.0 345.4 650.5 337.1 651.0 345.7 651.5 340.2 652.0 342.5 652.5 340.0 653.0 342.3 653.5 340.2 654.0 342.4 654.5 340.3 655.0 342.6 655.5 338.0 656.0 344.1 656.5 338.0 657.0 344.2 657.5 338.2 658.0 344.0 658.5 338.0 659.0 342.8 659.5 341.2 660.0 342.4 660.5 341.4 661.0 342.6 661.5 341.4 662.0 342.6 662.5 341.4 663.0 346.3 663.5 341.7 664.0 346.3 664.5 341.9 665.0 348.9 665.5 341.6 666.0 348.6 666.5 341.4 667.0 348.5 667.5 339.8 668.0 346.2 668.5 339.5 669.0 346.0 669.5 340.0 670.0 346.2 670.5 339.7 671.0 342.9 671.5 339.7 672.0 342.5 672.5 339.5 673.0 343.6 673.5 339.4 674.0 343.6 674.5 339.2 675.0 342.7 675.5 340.9 676.0 343.2 676.5 341.1 677.0 343.1 677.5 341.2 678.0 342.7 678.5 341.0 679.0 344.5 679.5 340.2 680.0 344.5 680.5 340.2 681.0 344.4 681.5 340.5" stroke="#a8443f"/>
<path d="M34.5 358.6 35.0 365.7 35.5 358.6 36.0 366.0 36.5 360.9 37.0 366.2 37.5 360.5 38.0 366.1 38.5 363.1 39.0 364.9 39.5 362.7 40.0 365.2 40.5 363.2 41.0 368.2 41.5 361.8 42.0 368.2 42.5 361.4 43.0 366.3 43.5 359.8 44.0 365.8 44.5 359.4 45.0 366.0 45.5 361.2 46.0 364.3 46.5 361.7 47.0 364.5 47.5 361.7 48.0 364.2 48.5 362.4 49.0 366.0 49.5 361.9 50.0 366.1 50.5 362.2 51.0 366.4 51.5 360.2 52.0 367.8 52.5 360.3 53.0 368.1 53.5 360.6 54.0 368.3 54.5 359.1 55.0 367.7 55.5 359.0 56.0 367.7 56.5 359.4 57.0 367.6 57.5 359.3 58.0 368.2 58.5 359.1 59.0 368.1 59.5 358.9 60.0 372.0 60.0 368.3 60.5 361.9 61.0 366.4 61.5 361.7 62.0 366.1 62.5 361.8 63.0 366.1 63.5 358.5 64.0 366.0 64.5 358.8 65.0 366.1 65.5 358.4 66.0 365.9 66.5 359.2 67.0 364.8 67.5 359.1 68.0 364.9 68.5 359.4 69.0 364.9 69.5 359.4 70.0 364.7 70.5 360.9 71.0 366.4 71.5 361.0 72.0 366.4 72.5 360.9 73.0 368.0 73.5 359.7 74.0 367.9 74.5 360.1 75.0 364.7 75.5 359.7 76.0 364.4 76.5 359.8 77.0 364.3 77.5 359.5 78.0 364.8 78.5 361.1 79.0 365.2 79.5 360.7 80.0 365.3 80.5 361.0 81.0 364.8 81.5 360.5 82.0 370.7 82.5 360.2 83.0 370.4 83.5 360.6 84.0 366.3 84.5 360.2 85.0 366.1 85.5 360.6 86.0 366.1 86.5 360.4 87.0 365.6 87.5 359.7 88.0 373.0 88.0 365.9 88.5 359.5 89.0 366.1 89.5 359.7 90.0 366.2 90.5 359.7 91.0 367.0 91.5 360.3 92.0 366.6 92.5 360.1 93.0 366.6 93.5 360.0 94.0 367.1 94.5 360.1 95.0 366.1 95.5 359.5 96.0 366.0 96.5 359.4 97.0 366.0 97.5 359.2 98.0 369.1 98.5 359.3 99.0 369.2 99.5 358.9 100.0 369.3 100.5 359.1 101.0 368.3 101.5 360.7 102.0 368.1 102.5 360.8 103.0 367.9 103.5 360.6 104.0 368.3 104.5 360.6 105.0 371.4 105.5 362.2 106.0 371.6 106.5 362.4 107.0 371.2 107.5 362.1 108.0 374.0 108.0 365.0 108.5 360.0 109.0 364.8 109.5 360.1 110.0 368.5 110.5 358.5 111.0 368.8 111.5 358.1 112.0 365.6 112.5 360.7 113.0 365.5 113.5 360.8 114.0 365.6 114.5 360.6 115.0 365.6 115.5 361.0 116.0 368.3 116.5 359.7 117.0 368.3 117.5 359.5 118.0 367.7 118.5 361.8 119.0 367.3 119.5 361.7 120.0 367.5 120.5 360.5 121.0 365.1 121.5 360.3 122.0 364.9 122.5 360.4 123.0 365.1 123.5 360.2 124.0 365.3 124.5 362.4 125.0 369.7 125.5 362.1 126.0 369.4 126.5 362.2 127.0 369.7 127.5 362.6 128.0 367.6 128.5 357.9 129.0 367.3 129.5 357.6 130.0 374.5 130.0 367.7 130.5 358.0 131.0 369.5 131.5 358.9 132.0 369.9 132.5 358.5 133.0 369.7 133.5 358.8 134.0 369.5 134.5 358.4 135.0 367.9 135.5 360.8 136.0 368.1 136.5 360.8 137.0 368.0 137.5 361.0 138.0 368.1 138.5 360.6 139.0 367.5 139.5 362.2 140.0 367.8 140.5 361.9 141.0 367.8 141.5 360.6 142.0 368.4 142.5 360.8 143.0 368.4 143.5 360.5 144.0 369.3 144.5 358.7 145.0 368.9 145.5 359.0 146.0 369.4 146.5 360.0 147.0 369.6 147.5 359.9 148.0 369.6 148.5 360.1 149.0 369.5 149.5 359.6 150.0 373.0 150.0 369.5 150.5 357.3 151.0 369.4 151.5 357.1 152.0 369.6 152.5 360.3 153.0 368.3 153.5 360.5 154.0 367.9 154.5 360.2 155.0 367.8 155.5 359.8 156.0 367.8 156.5 359.5 157.0 367.7 157.5 358.8 158.0 367.1 158.5 359.1 159.0 365.5 159.5 358.9 160.0 365.0 160.5 359.8 161.0 362.4 161.5 359.6 162.0 362.2 162.5 359.1 163.0 361.9 163.5 359.0 164.0 366.1 164.5 355.4 165.0 366.0 165.5 354.9 166.0 366.0 166.5 354.7 167.0 362.6 167.5 357.1 168.0 362.3 168.5 357.1 169.0 361.3 169.5 354.9 170.0 373.0 170.0 361.1 170.5 355.4 171.0 361.4 171.5 354.9 172.0 361.6 172.5 358.9 173.0 363.7 173.5 359.2 174.0 363.5 174.5 359.0 175.0 363.7 175.5 355.8 176.0 364.3 176.5 355.8 177.0 364.4 177.5 355.8 178.0 364.3 178.5 355.8 179.0 365.3 179.5 354.3 180.0 364.9 180.5 354.1 181.0 364.9 181.5 355.9 182.0 363.3 182.5 355.8 183.0 363.5 183.5 356.2 184.0 366.0 184.5 356.6 185.0 365.7 185.5 356.7 186.0 363.4 186.5 356.9 187.0 363.3 187.5 357.2 188.0 364.8 188.5 357.1 189.0 364.8 189.5 357.1 190.0 364.7 190.5 356.9 191.0 365.3 191.5 354.1 192.0 362.9 192.5 354.0 193.0 362.7 193.5 354.5 194.0 363.1 194.5 354.2 195.0 362.7 195.5 354.5 196.0 364.0 196.5 354.2 197.0 363.8 197.5 358.8 198.0 365.7 198.5 358.8 199.0 366.0 199.5 358.8 200.0 365.7 200.5 355.5 201.0 364.0 201.5 355.1 202.0 363.9 202.5 355.0 203.0 363.8 203.5 355.5 204.0 367.5 204.5 356.4 205.0 372.0 205.0 367.5 205.5 356.1 206.0 367.2 206.5 356.2 207.0 366.2 207.5 355.4 208.0 366.3 208.5 355.2 209.0 366.5 209.5 355.1 210.0 366.1 210.5 357.2 211.0 365.8 211.5 356.7 212.0 366.1 212.5 356.8 213.0 366.0 213.5 357.0 214.0 362.4 214.5 357.6 215.0 372.5 215.0 362.1 215.5 357.3 216.0 362.1 216.5 357.6 217.0 362.3 217.5 354.8 218.0 364.3 218.5 354.9 219.0 364.3 219.5 359.0 220.0 361.4 220.5 358.7 221.0 361.2 221.5 358.6 222.0 361.5 222.5 358.6 223.0 366.1 223.5 358.8 224.0 366.1 224.5 358.7 225.0 366.2 225.5 358.8 226.0 366.5 226.5 356.7 227.0 363.5 227.5 356.6 228.0 363.6 228.5 354.5 229.0 362.2 229.5 354.8 230.0 362.6 230.5 355.0 231.0 362.4 231.5 354.6 232.0 362.3 232.5 354.2 233.0 362.4 233.5 354.5 234.0 362.4 234.5 354.5 235.0 362.3 235.5 356.9 236.0 365.1 236.5 356.7 237.0 364.8 237.5 356.9 238.0 365.4 238.5 358.7 239.0 366.0 239.5 358.7 240.0 366.2 240.5 355.1 241.0 363.1 241.5 355.0 242.0 363.3 242.5 358.4 243.0 370.0 243.0 361.4 243.5 358.2 244.0 361.5 244.5 358.2 245.0 361.5 245.5 357.8 246.0 361.9 246.5 356.3 247.0 366.4 247.5 356.5 248.0 366.5 248.5 356.6 249.0 366.6 249.5 356.7 250.0 363.8 250.5 355.7 251.0 363.9 251.5 355.9 252.0 364.6 252.5 354.2 253.0 364.3 253.5 353.8 254.0 364.2 254.5 354.3 255.0 362.9 255.5 356.4 256.0 362.6 256.5 356.9 257.0 365.3 257.5 353.2 258.0 365.5 258.5 353.1 259.0 365.2 259.5 353.3 260.0 365.1 260.5 358.2 261.0 364.8 261.5 358.0 262.0 364.5 262.5 357.5 263.0 363.8 263.5 356.9 264.0 362.8 264.5 353.5 265.0 364.4 265.5 352.3 266.0 363.3 266.5 351.8 267.0 362.3 267.5 350.9 268.0 362.0 268.5 352.6 269.0 361.2 269.5 351.5 270.0 360.7 270.5 351.0 271.0 359.5 271.5 350.3 272.0 356.9 272.5 349.1 273.0 356.6 273.5 348.4 274.0 355.2 274.5 348.2" stroke="#8bab4a"/>
<path d="M346.8 292.0 347.3 341.0 347.8 300.0 355.5 300.0 356.0 331.0 357.5 331.0 358.0 300.0 365.5 300.0 366.0 326.0 366.8 326.0 367.2 232.0 368.0 234.5 383.0 234.5 383.4 345.0 386.2 345.0 387.0 330.0 394.5 333.0 395.0 334.0 397.5 334.0 398.0 346.0 416.5 346.0 417.5 312.0 418.0 308.0 419.0 317.0 419.5 346.0 429.0 350.0 430.5 362.0 433.0 356.0 433.5 352.0 434.0 360.7 434.5 352.1 435.0 360.8 435.5 353.1 436.0 359.2 436.5 353.2 437.0 358.8 437.5 352.7 438.0 358.8 438.5 353.3 439.0 358.8 439.5 349.3 440.0 359.5 440.5 349.7 441.0 359.3 441.5 355.5 442.0 362.1 442.5 355.0 443.0 362.1 443.5 355.4 444.0 362.1 444.5 351.5 445.0 360.7 445.5 352.0 446.0 361.2 446.5 352.1 447.0 361.0 447.5 352.1 448.0 361.7 448.5 354.8 449.0 361.9 449.5 354.7 450.0 365.0 450.0 362.1 450.5 354.8 451.0 361.7 451.5 354.6 452.0 364.4 452.5 351.9 453.0 364.1 453.5 351.5 454.0 361.3 454.5 352.5 455.0 361.1 455.5 352.7 456.0 361.1 456.5 352.0 457.0 367.0 457.5 351.6 458.0 367.0 458.5 352.2 459.0 367.4 459.5 351.8 460.0 367.1 460.5 356.2 461.0 359.6 461.5 356.5 462.0 359.7 462.5 356.8 463.0 359.6 463.5 354.8 464.0 365.8 464.5 355.1 465.0 365.9 465.5 356.8 466.0 364.8 466.5 357.4 467.0 364.6 467.5 355.1 468.0 362.1 468.5 355.2 469.0 362.4 469.5 355.3 470.0 362.5 470.5 353.5 471.0 360.5 471.5 353.5 472.0 360.2 472.5 353.8 473.0 360.2 473.5 353.9 474.0 360.5 474.5 354.7 475.0 360.4 475.5 354.6 476.0 360.1 476.5 353.9 477.0 362.3 477.5 354.1 478.0 362.6 478.5 354.1 479.0 362.6 479.5 353.9 480.0 365.0 480.0 362.1 480.5 355.6 481.0 363.5 481.5 355.6 482.0 363.6 482.5 355.4 483.0 361.3 483.5 356.6 484.0 361.3 484.5 356.8 485.0 361.2 485.5 357.1 486.0 361.0 486.5 357.3 487.0 360.0 487.5 357.8 488.0 360.3 488.5 357.4 489.0 360.0 489.5 357.6 490.0 360.6 490.5 358.1 491.0 360.9 491.5 357.8 492.0 360.6 492.5 358.1 493.0 360.3 493.5 354.4 494.0 360.4 494.5 354.8 495.0 360.4 495.5 354.5 496.0 360.6 496.5 354.6 497.0 361.1 497.5 356.7 498.0 360.9 498.5 356.8 499.0 361.2 499.5 353.2 500.0 363.0 500.5 353.3 501.0 363.0 501.5 358.0 502.0 364.0 502.5 357.9 503.0 363.8 503.5 358.1 504.0 364.3 504.5 358.0 505.0 366.4 505.5 355.2 506.0 366.2 506.5 355.3 507.0 360.9 507.5 353.6 508.0 361.4 508.5 354.2 509.0 361.5 509.5 355.6 510.0 362.2 510.5 356.0 511.0 362.2 511.5 356.0 512.0 361.9 512.5 355.7 513.0 365.2 513.5 357.1 514.0 365.2 514.5 357.0 515.0 365.7 515.5 356.7 516.0 364.0 516.5 355.3 517.0 364.3 517.5 355.2 518.0 362.8 518.5 357.2 519.0 363.0 519.5 357.0 520.0 366.0 520.0 363.0 520.5 357.0 521.0 361.0 521.5 356.5 522.0 361.5 522.5 356.7 523.0 361.3 523.5 356.2 524.0 361.5 524.5 356.1 525.0 361.9 525.5 356.4 526.0 362.0 526.5 356.5 527.0 361.7 527.5 359.2 528.0 365.6 528.5 359.1 529.0 365.3 529.5 359.0 530.0 365.7 530.5 358.8 531.0 365.7 531.5 358.3 532.0 365.6 532.5 358.2 533.0 365.7 533.5 358.5 534.0 365.5 534.5 358.6 535.0 363.9 535.5 357.1 536.0 363.9 536.5 357.5 537.0 364.0 537.5 357.7 538.0 364.1 538.5 355.8 539.0 366.5 539.5 356.3 540.0 366.0 540.0 366.3 540.5 356.2 541.0 366.5 541.5 356.3 542.0 366.7 542.5 355.6 543.0 363.6 543.5 356.0 544.0 363.8 544.5 355.8 545.0 363.7 545.5 356.1 546.0 362.3 546.5 355.6 547.0 362.5 547.5 355.8 548.0 362.6 548.5 356.2 549.0 362.8 549.5 356.0 550.0 364.1 550.5 358.8 551.0 364.2 551.5 358.9 552.0 364.1 552.5 360.6 553.0 364.4 553.5 360.7 554.0 364.6 554.5 360.8 555.0 364.4 555.5 360.7 556.0 363.2 556.5 357.6 557.0 363.7 557.5 357.9 558.0 366.4 558.5 358.7 559.0 365.9 559.5 358.7 560.0 362.7 560.5 357.1 561.0 362.4 561.5 356.9 562.0 362.5 562.5 356.8 563.0 362.9 563.5 357.1 564.0 362.9 564.5 358.2 565.0 363.3 565.5 357.9 566.0 363.1 566.5 358.3 567.0 363.0 567.5 358.2 568.0 366.8 568.5 358.8 569.0 367.0 569.5 359.0 570.0 367.0 570.5 359.0 571.0 366.6 571.5 356.7 572.0 365.7 572.5 356.4 573.0 365.8 573.5 358.9 574.0 362.7 574.5 359.0 575.0 362.4 575.5 359.0 576.0 362.3 576.5 358.9 577.0 363.6 577.5 356.4 578.0 363.4 578.5 356.5 579.0 363.6 579.5 356.4 580.0 363.5 580.5 357.2 581.0 366.2 581.5 357.2 582.0 365.9 582.5 357.5 583.0 363.5 583.5 356.9 584.0 363.9 584.5 356.8 585.0 363.6 585.5 357.0 586.0 363.0 586.5 357.2 587.0 362.7 587.5 357.1 588.0 362.9 588.5 357.2 589.0 363.2 589.5 357.0 590.0 364.2 590.5 356.9 591.0 364.1 591.5 356.9 592.0 363.9 592.5 356.8 593.0 364.3 593.5 358.0 594.0 364.4 594.5 358.2 595.0 364.2 595.5 357.9 596.0 364.6 596.5 358.2 597.0 365.9 597.5 358.7 598.0 366.0 598.5 358.6 599.0 366.2 599.5 358.4 600.0 368.0 600.0 366.4 600.5 358.0 601.0 366.1 601.5 359.4 602.0 365.6 602.5 359.0 603.0 365.6 603.5 359.4 604.0 366.5 604.5 357.4 605.0 366.6 605.5 357.4 606.0 366.3 606.5 357.3 607.0 366.3 607.5 357.4 608.0 364.3 608.5 358.8 609.0 364.3 609.5 358.6 610.0 364.4 610.5 358.7 611.0 363.0 611.5 356.8 612.0 363.0 612.5 357.2 613.0 363.4 613.5 360.0 614.0 366.8 614.5 360.2 615.0 366.9 615.5 360.3 616.0 366.8 616.5 360.1 617.0 366.9 617.5 358.2 618.0 368.2 618.5 358.4 619.0 368.0 619.5 358.5 620.0 368.2 620.5 358.2 621.0 367.7 621.5 356.3 622.0 368.1 622.5 356.4 623.0 368.2 623.5 356.6 624.0 368.1 624.5 356.5 625.0 365.2 625.5 360.0 626.0 365.1 626.5 360.0 627.0 365.0 627.5 360.1 628.0 364.8 628.5 359.6 629.0 363.5 629.5 357.0 630.0 363.1 630.5 357.1 631.0 363.0 631.5 356.9 632.0 367.8 632.5 359.5 633.0 367.4 633.5 359.7 634.0 367.7 634.5 357.6 635.0 367.6 635.5 357.7 636.0 367.5 636.5 357.4 637.0 367.9 637.5 357.5 638.0 364.3 638.5 361.4 639.0 364.3 639.5 361.3 640.0 368.0 640.0 366.5 640.5 360.6 641.0 366.6 641.5 360.6 642.0 366.6 642.5 360.6 643.0 368.6 643.5 359.5 644.0 368.2 644.5 359.4 645.0 368.1 645.5 359.0 646.0 368.0 646.5 359.1 647.0 364.3 647.5 359.5 648.0 364.7 648.5 359.0 649.0 363.8 649.5 358.0 650.0 364.2 650.5 357.9 651.0 364.3 651.5 359.7 652.0 363.9 652.5 359.7 653.0 364.0 653.5 357.9 654.0 364.2 654.5 358.2 655.0 364.0 655.5 357.9 656.0 363.9 656.5 357.8 657.0 366.1 657.5 357.6 658.0 366.6 658.5 357.7 659.0 366.6 659.5 357.7 660.0 366.4 660.5 359.5 661.0 364.0 661.5 359.8 662.0 364.0 662.5 359.6 663.0 369.0 663.5 360.9 664.0 368.7 664.5 360.9 665.0 363.6 665.5 358.9 666.0 363.9 666.5 358.8 667.0 363.6 667.5 358.8 668.0 363.7 668.5 357.7 669.0 363.9 669.5 357.3 670.0 363.8 670.5 357.4 671.0 363.9 671.5 357.2 672.0 364.1 672.5 360.6 673.0 365.0 673.5 360.5 674.0 364.8 674.5 360.5 675.0 365.0 675.5 360.9 676.0 365.1 676.5 360.4 677.0 365.4 677.5 360.0 678.0 365.4 678.5 360.4 679.0 365.8 679.5 354.6 680.0 365.5 680.5 354.7 681.0 365.5 681.5 355.0" stroke="#8bab4a"/>
<path d="M34.5 352.0 35.0 372.0 35.0 352.9 35.5 352.1 36.0 356.0 36.0 352.9 36.5 352.2 37.0 352.7 37.5 353.1 38.0 352.7 38.5 353.2 39.0 353.2 39.5 352.8 40.0 353.1 40.5 353.1 41.0 353.5 41.5 353.5 42.0 353.3 42.5 353.7 43.0 352.6 43.5 352.2 44.0 352.4 44.5 352.4 45.0 352.8 45.5 352.4 46.0 352.8 46.5 352.5 47.0 354.8 47.5 354.1 48.0 354.7 48.5 354.1 49.0 354.9 49.5 354.4 50.0 354.8 50.5 354.4 51.0 356.8 51.5 355.3 52.0 357.2 52.5 355.2 53.0 356.7 53.5 355.4 54.0 354.7 54.5 354.4 55.0 354.4 55.5 354.3 56.0 354.4 56.5 351.9 57.0 353.4 57.5 352.2 58.0 353.3 58.5 352.2 59.0 353.1 59.5 352.4 60.0 353.7 60.5 353.4 61.0 353.8 61.5 353.8 62.0 353.4 62.5 353.6 63.0 353.7 63.5 353.5 64.0 356.8 64.5 355.9 65.0 356.5 65.5 355.7 66.0 356.5 66.5 355.9 67.0 356.7 67.5 354.4 68.0 355.2 68.5 353.8 69.0 355.2 69.5 354.2 70.0 355.7 70.5 351.3 71.0 355.7 71.5 351.3 72.0 355.9 72.5 350.8 73.0 355.9 73.5 350.9 74.0 358.7 74.5 351.1 75.0 358.8 75.5 351.0 76.0 358.8 76.5 351.8 77.0 353.0 77.5 351.7 78.0 352.8 78.5 351.6 79.0 353.0 79.5 352.2 80.0 354.5 80.5 354.1 81.0 354.1 81.5 354.1 82.0 354.5 82.5 354.2 83.0 354.6 83.5 354.3 84.0 354.3 84.5 354.4 85.0 353.9 85.5 354.3 86.0 352.8 86.5 352.6 87.0 352.9 87.5 352.7 88.0 352.6 88.5 352.8 89.0 353.0 89.5 355.5 90.0 355.7 90.5 355.1 91.0 356.0 91.5 355.6 92.0 355.6 92.5 353.0 93.0 355.4 93.5 352.7 94.0 355.1 94.5 353.0 95.0 352.9 95.5 353.0 96.0 352.9 96.5 352.7 97.0 356.8 97.5 351.4 98.0 356.7 98.5 350.7 99.0 356.8 99.5 351.0 100.0 352.3 100.5 350.5 101.0 352.0 101.5 350.4 102.0 352.0 102.5 350.6 103.0 354.6 103.5 354.6 104.0 354.7 104.5 354.5 105.0 354.7 105.5 354.5 106.0 354.9 106.5 354.4 107.0 353.7 107.5 351.4 108.0 353.7 108.5 351.4 109.0 354.2 109.5 351.4 110.0 354.0 110.5 351.0 111.0 356.6 111.5 351.6 112.0 356.9 112.5 351.4 113.0 356.7 113.5 351.2 114.0 356.8 114.5 351.4 115.0 353.3 115.5 351.9 116.0 353.6 116.5 352.2 117.0 353.6 117.5 350.8 118.0 353.0 118.5 350.7 119.0 353.0 119.5 350.5 120.0 353.1 120.5 350.4 121.0 353.2 121.5 352.2 122.0 353.1 122.5 352.3 123.0 353.0 123.5 352.6 124.0 353.4 124.5 352.5 125.0 356.8 125.5 352.5 126.0 356.7 126.5 352.8 127.0 358.2 127.5 351.1 128.0 358.4 128.5 350.9 129.0 353.5 129.5 353.4 130.0 353.4 130.5 353.1 131.0 353.3 131.5 353.4 132.0 354.9 132.5 350.9 133.0 354.7 133.5 350.5 134.0 354.9 134.5 354.7 135.0 357.5 135.5 355.1 136.0 357.6 136.5 354.9 137.0 357.6 137.5 355.4 138.0 353.4 138.5 353.3 139.0 353.8 139.5 353.8 140.0 353.5 140.5 353.8 141.0 353.6 141.5 353.9 142.0 355.0 142.5 355.2 143.0 355.0 143.5 354.9 144.0 357.4 144.5 350.3 145.0 357.6 145.5 350.7 146.0 357.6 146.5 353.3 147.0 356.1 147.5 353.4 148.0 356.2 148.5 351.9 149.0 357.8 149.5 352.3 150.0 357.6 150.5 352.3 151.0 357.9 151.5 352.5 152.0 355.7 152.5 351.6 153.0 355.6 153.5 351.3 154.0 355.3 154.5 351.2 155.0 357.9 155.5 352.0 156.0 357.8 156.5 351.0 157.0 353.8 157.5 352.1 158.0 353.6 158.5 351.7 159.0 353.4 159.5 350.7 160.0 353.4 160.5 350.3 161.0 355.6 161.5 349.1 162.0 355.6 162.5 348.4 163.0 355.3 163.5 347.7 164.0 355.2 164.5 346.9 165.0 354.2 165.5 350.1 166.0 354.2 166.5 350.6 167.0 355.5 167.5 350.7 168.0 355.6 168.5 350.7 169.0 356.0 169.5 350.9 170.0 355.8 170.5 350.7 171.0 354.5 171.5 348.3 172.0 354.7 172.5 348.3 173.0 354.6 173.5 347.6 174.0 355.0 174.5 347.6 175.0 355.0 175.5 347.7 176.0 354.9 176.5 347.1 177.0 354.4 177.5 347.3 178.0 354.7 178.5 347.4 179.0 353.8 179.5 348.3 180.0 354.1 180.5 348.3 181.0 354.1 181.5 344.5 182.0 354.7 182.5 344.5 183.0 354.5 183.5 344.4 184.0 354.8 184.5 344.9 185.0 354.5 185.5 346.7 186.0 350.9 186.5 346.6 187.0 351.2 187.5 345.3 188.0 355.3 188.5 344.9 189.0 355.4 189.5 348.3 190.0 353.4 190.5 347.8 191.0 353.1 191.5 347.5 192.0 355.1 192.5 347.8 193.0 355.1 193.5 348.0 194.0 354.8 194.5 347.6 195.0 355.1 195.5 346.8 196.0 354.6 196.5 346.9 197.0 354.7 197.5 347.2 198.0 354.6 198.5 344.6 199.0 353.2 199.5 344.6 200.0 352.9 200.5 344.3 201.0 352.6 201.5 348.8 202.0 352.5 202.5 348.7 203.0 352.9 203.5 349.1 204.0 352.4 204.5 347.9 205.0 351.1 205.5 347.9 206.0 351.1 206.5 347.7 207.0 354.1 207.5 346.8 208.0 354.3 208.5 346.8 209.0 354.9 209.5 345.3 210.0 355.1 210.5 344.8 211.0 355.1 211.5 345.2 212.0 353.3 212.5 349.6 213.0 353.5 213.5 350.0 214.0 355.3 214.5 347.2 215.0 354.8 215.5 346.8 216.0 354.9 216.5 346.9 217.0 356.0 217.5 344.7 218.0 355.7 218.5 344.5 219.0 355.6 219.5 344.4 220.0 355.9 220.5 344.4 221.0 353.6 221.5 348.5 222.0 353.6 222.5 348.4 223.0 353.8 223.5 348.2 224.0 352.3 224.5 348.2 225.0 352.2 225.5 348.4 226.0 352.3 226.5 348.5 227.0 352.5 227.5 348.3 228.0 352.0 228.5 343.9 229.0 352.2 229.5 344.0 230.0 351.7 230.5 347.5 231.0 351.7 231.5 347.1 232.0 352.0 232.5 347.0 233.0 352.0 233.5 347.5 234.0 354.7 234.5 344.0 235.0 354.9 235.5 343.5 236.0 354.9 236.5 343.4 237.0 355.0 237.5 349.7 238.0 355.9 238.5 349.7 239.0 355.6 239.5 349.9 240.0 356.0 240.5 349.6 241.0 356.0 241.5 344.2 242.0 350.9 242.5 344.3 243.0 350.7 243.5 344.0 244.0 356.0 244.5 347.5 245.0 356.1 245.5 347.7 246.0 355.9 246.5 344.0 247.0 352.1 247.5 344.0 248.0 352.2 248.5 347.2 249.0 352.7 249.5 347.1 250.0 352.9 250.5 347.5 251.0 352.7 251.5 347.2 252.0 353.0 252.5 344.3 253.0 353.2 253.5 343.8 254.0 353.3 254.5 343.7 255.0 353.1 255.5 343.5 256.0 353.3 256.5 343.3 257.0 353.6 257.5 343.1 258.0 353.1 258.5 346.4 259.0 356.7 259.5 346.0 260.0 356.4 260.5 345.9 261.0 355.5 261.5 342.5 262.0 355.8 262.5 342.3 263.0 355.2 263.5 341.9 264.0 349.5 264.5 341.6 265.0 349.0 265.5 341.0 266.0 348.6 266.5 340.7 267.0 348.3 267.5 343.5 268.0 352.3 268.5 343.0 269.0 351.3 269.5 342.4 270.0 351.1 270.5 342.0 271.0 350.4 271.5 336.2 272.0 345.1 272.5 335.6 273.0 344.2 273.5 335.4 274.0 343.9 274.5 334.9" stroke="#765599"/>
<path d="M346.8 282.0 347.4 330.0 348.0 300.0 370.0 300.0 372.5 285.1 373.1 309.6 373.7 286.7 374.4 308.9 375.0 285.0 375.6 309.1 376.3 286.4 376.9 308.9 377.5 287.1 378.5 310.1 380.2 310.1 381.3 340.4 382.3 340.4 382.7 302.0 383.2 302.0 383.6 332.9 386.3 332.9 387.3 310.6 388.7 310.6 389.7 340.3 390.3 340.3 391.5 319.2 392.2 319.2 392.6 347.2 395.2 347.2 395.6 320.6 398.3 320.6 398.6 339.4 400.2 339.4 401.4 310.4 402.5 310.4 403.0 348.4 405.0 348.4 406.1 317.7 406.7 317.7 407.7 330.5 409.6 330.5 410.3 328.2 412.1 328.2 413.0 335.6 414.0 335.6 414.8 327.7 416.8 327.7 417.5 329.1 419.8 329.1 420.2 313.9 421.2 313.9 421.5 332.1 423.4 332.1 424.3 336.0 425.5 336.0 426.1 347.1 427.3 347.1 428.4 333.3 429.0 333.3 429.8 349.0 431.6 349.0 433.5 339.8 434.0 349.3 434.5 339.8 435.0 349.2 435.5 340.1 436.0 349.1 436.5 339.9 437.0 349.3 437.5 342.8 438.0 349.0 438.5 343.2 439.0 349.1 439.5 342.7 440.0 349.0 440.5 343.3 441.0 352.5 441.5 343.3 442.0 352.6 442.5 343.3 443.0 352.5 443.5 343.1 444.0 352.2 444.5 340.5 445.0 349.3 445.5 340.5 446.0 349.7 446.5 340.8 447.0 352.1 447.5 341.3 448.0 352.3 448.5 341.4 449.0 352.0 449.5 341.0 450.0 352.0 450.5 341.7 451.0 353.3 451.5 341.4 452.0 353.2 452.5 341.6 453.0 352.9 453.5 343.2 454.0 352.9 454.5 343.6 455.0 353.3 455.5 340.5 456.0 350.6 456.5 341.0 457.0 350.6 457.5 340.8 458.0 350.6 458.5 342.7 459.0 351.2 459.5 343.1 460.0 350.9 460.5 343.5 461.0 349.3 461.5 343.5 462.0 349.7 462.5 344.1 463.0 349.7 463.5 343.8 464.0 353.8 464.5 345.1 465.0 353.7 465.5 345.4 466.0 350.9 466.5 345.6 467.0 351.1 467.5 345.3 468.0 351.1 468.5 342.1 469.0 350.5 469.5 342.3 470.0 350.9 470.5 342.5 471.0 352.8 471.5 343.4 472.0 352.8 472.5 344.7 473.0 351.9 473.5 345.5 474.0 352.5 474.5 345.0 475.0 352.9 475.5 345.8 476.0 352.8 476.5 346.7 477.0 355.8 477.5 350.9 478.0 356.0 478.5 352.2 479.0 356.3 479.5 352.8 480.0 356.7 480.5 352.9 481.0 354.9 481.5 353.1 482.0 355.0 482.5 352.8 483.0 355.0 483.5 353.1 484.0 355.2 484.5 352.9 485.0 353.4 485.5 348.2 486.0 353.2 486.5 348.5 487.0 353.2 487.5 348.5 488.0 353.3 488.5 348.7 489.0 353.7 489.5 351.5 490.0 353.6 490.5 352.1 491.0 354.0 491.5 348.9 492.0 354.1 492.5 349.3 493.0 354.0 493.5 351.3 494.0 352.4 494.5 351.2 495.0 352.7 495.5 351.4 496.0 352.8 496.5 351.6 497.0 352.6 497.5 349.4 498.0 355.0 498.5 349.7 499.0 355.5 499.5 349.4 500.0 355.6 500.5 349.6 501.0 353.4 501.5 348.0 502.0 353.2 502.5 348.1 503.0 353.7 503.5 348.4 504.0 354.1 504.5 353.0 505.0 354.0 505.5 353.2 506.0 354.5 506.5 353.2 507.0 354.5 507.5 353.1 508.0 354.9 508.5 352.3 509.0 354.8 509.5 352.3 510.0 357.4 510.5 349.3 511.0 357.6 511.5 349.7 512.0 358.0 512.5 349.3 513.0 357.9 513.5 349.4 514.0 358.3 514.5 350.9 515.0 358.5 515.5 351.3 516.0 358.5 516.5 351.2 517.0 358.6 517.5 351.1 518.0 357.6 518.5 346.8 519.0 357.3 519.5 347.0 520.0 357.5 520.5 346.8 521.0 355.3 521.5 352.1 522.0 355.8 522.5 352.3 523.0 355.9 523.5 352.3 524.0 355.5 524.5 352.2 525.0 356.2 525.5 349.9 526.0 356.7 526.5 350.2 527.0 357.0 527.5 348.8 528.0 356.8 528.5 348.7 529.0 358.8 529.5 349.0 530.0 358.9 530.5 348.9 531.0 359.0 531.5 348.9 532.0 356.9 532.5 349.1 533.0 356.9 533.5 349.2 534.0 357.1 534.5 349.2 535.0 358.1 535.5 353.4 536.0 357.9 536.5 353.1 537.0 357.8 537.5 353.3 538.0 358.1 538.5 353.3 539.0 355.0 539.5 349.9 540.0 355.4 540.5 350.2 541.0 355.1 541.5 350.0 542.0 355.4 542.5 349.9 543.0 357.2 543.5 349.5 544.0 357.2 544.5 349.9 545.0 357.5 545.5 350.9 546.0 358.8 546.5 350.8 547.0 359.2 547.5 350.9 548.0 359.0 548.5 350.9 549.0 359.0 549.5 348.6 550.0 359.7 550.5 348.7 551.0 359.7 551.5 349.1 552.0 359.8 552.5 349.1 553.0 356.1 553.5 348.1 554.0 356.2 554.5 348.3 555.0 355.9 555.5 347.8 556.0 355.9 556.5 347.9 557.0 357.0 557.5 351.6 558.0 357.1 558.5 352.1 559.0 356.7 559.5 351.5 560.0 356.9 560.5 354.1 561.0 360.6 561.5 354.0 562.0 360.2 562.5 354.2 563.0 360.6 563.5 353.8 564.0 358.9 564.5 350.9 565.0 358.9 565.5 351.0 566.0 358.6 566.5 351.0 567.0 360.1 567.5 350.6 568.0 364.0 568.0 360.5 568.5 350.1 569.0 360.6 569.5 350.2 570.0 360.3 570.5 350.5 571.0 360.8 571.5 349.3 572.0 360.5 572.5 348.9 573.0 360.9 573.5 352.9 574.0 358.5 574.5 352.6 575.0 358.9 575.5 352.2 576.0 358.6 576.5 351.9 577.0 358.6 577.5 351.9 578.0 360.6 578.5 351.9 579.0 360.2 579.5 351.6 580.0 357.4 580.5 348.0 581.0 357.6 581.5 348.2 582.0 358.9 582.5 352.3 583.0 358.8 583.5 351.8 584.0 359.0 584.5 351.8 585.0 365.0 585.0 358.7 585.5 352.1 586.0 357.2 586.5 354.3 587.0 357.1 587.5 354.5 588.0 357.5 588.5 352.5 589.0 359.6 589.5 352.2 590.0 359.6 590.5 352.1 591.0 358.3 591.5 352.5 592.0 358.4 592.5 352.3 593.0 358.3 593.5 352.5 594.0 360.0 594.5 352.2 595.0 360.2 595.5 351.9 596.0 359.9 596.5 352.1 597.0 359.3 597.5 354.0 598.0 359.2 598.5 354.4 599.0 359.7 599.5 354.2 600.0 359.8 600.5 350.0 601.0 358.4 601.5 350.3 602.0 358.3 602.5 350.0 603.0 358.3 603.5 350.1 604.0 358.5 604.5 351.0 605.0 360.5 605.5 350.9 606.0 360.9 606.5 350.9 607.0 360.7 607.5 351.3 608.0 360.8 608.5 351.3 609.0 358.1 609.5 351.7 610.0 358.1 610.5 351.6 611.0 357.9 611.5 352.8 612.0 358.7 612.5 352.5 613.0 358.2 613.5 352.7 614.0 358.5 614.5 352.6 615.0 358.5 615.5 353.7 616.0 362.6 616.5 353.9 617.0 362.3 617.5 353.9 618.0 360.3 618.5 354.2 619.0 359.8 619.5 354.3 620.0 359.9 620.5 354.3 621.0 359.2 621.5 351.5 622.0 359.2 622.5 351.9 623.0 359.3 623.5 351.7 624.0 364.8 624.5 353.7 625.0 364.6 625.5 353.7 626.0 364.8 626.5 353.7 627.0 364.7 627.5 352.1 628.0 362.8 628.5 351.8 629.0 362.5 629.5 352.4 630.0 362.1 630.5 352.0 631.0 362.3 631.5 352.5 632.0 362.2 632.5 352.4 633.0 361.9 633.5 349.9 634.0 361.7 634.5 349.5 635.0 362.1 635.5 349.8 636.0 361.8 636.5 350.0 637.0 361.5 637.5 351.9 638.0 361.7 638.5 352.0 639.0 359.0 639.5 351.8 640.0 364.0 640.0 359.2 640.5 352.1 641.0 359.1 641.5 352.1 642.0 359.3 642.5 352.4 643.0 363.9 643.5 352.6 644.0 363.7 644.5 352.6 645.0 361.8 645.5 353.0 646.0 361.7 646.5 353.2 647.0 361.9 647.5 352.9 648.0 361.7 648.5 350.7 649.0 358.6 649.5 350.7 650.0 358.8 650.5 350.7 651.0 359.0 651.5 350.5 652.0 359.2 652.5 354.8 653.0 358.8 653.5 354.8 654.0 360.8 654.5 352.2 655.0 360.4 655.5 352.2 656.0 365.6 656.5 352.4 657.0 366.0 657.5 352.5 658.0 365.7 658.5 352.4 659.0 366.0 659.5 352.4 660.0 362.2 660.5 353.0 661.0 362.2 661.5 353.2 662.0 362.5 662.5 352.9 663.0 363.7 663.5 352.0 664.0 363.3 664.5 351.9 665.0 363.2 665.5 352.0 666.0 361.7 666.5 352.2 667.0 361.7 667.5 352.3 668.0 361.8 668.5 352.0 669.0 362.2 669.5 347.7 670.0 363.4 670.5 347.6 671.0 363.0 671.5 348.0 672.0 359.7 672.5 349.0 673.0 359.4 673.5 349.0 674.0 359.9 674.5 353.9 675.0 363.2 675.5 354.0 676.0 363.3 676.5 350.1 677.0 361.0 677.5 350.3 678.0 360.7 678.5 350.3 679.0 360.6 679.5 350.4 680.0 361.0 680.5 353.9 681.0 362.6 681.5 353.7" stroke="#765599"/>
<path d="M34.5 350.4 35.0 352.0 35.5 350.6 36.0 351.8 36.5 350.5 37.0 355.9 37.5 349.7 38.0 356.3 38.5 349.5 39.0 356.2 39.5 349.6 40.0 354.8 40.5 352.9 41.0 355.2 41.5 352.8 42.0 355.1 42.5 352.8 43.0 354.9 43.5 350.8 44.0 353.6 44.5 351.0 45.0 353.1 45.5 350.2 46.0 351.8 46.5 350.3 47.0 351.6 47.5 350.0 48.0 355.5 48.5 351.9 49.0 355.8 49.5 351.9 50.0 355.9 50.5 351.7 51.0 354.2 51.5 350.7 52.0 354.2 52.5 350.5 53.0 353.9 53.5 350.4 54.0 354.0 54.5 351.7 55.0 351.7 55.5 351.6 56.0 351.6 56.5 351.8 57.0 351.4 57.5 351.3 58.0 357.4 58.5 350.9 59.0 357.5 59.5 350.9 60.0 357.1 60.5 351.0 61.0 353.5 61.5 350.8 62.0 354.0 62.5 350.8 63.0 353.7 63.5 350.7 64.0 353.9 64.5 347.4 65.0 352.3 65.5 347.6 66.0 352.5 66.5 347.4 67.0 354.7 67.5 348.9 68.0 354.9 68.5 348.5 69.0 354.8 69.5 348.8 70.0 355.0 70.5 348.8 71.0 351.7 71.5 351.2 72.0 351.6 72.5 351.5 73.0 351.9 73.5 351.2 74.0 351.5 74.5 347.8 75.0 353.8 75.5 348.0 76.0 353.4 76.5 348.0 77.0 353.8 77.5 347.8 78.0 353.3 78.5 352.3 79.0 351.8 79.5 352.1 80.0 352.3 80.5 347.3 81.0 350.9 81.5 346.9 82.0 350.8 82.5 347.1 83.0 351.2 83.5 351.0 84.0 354.6 84.5 350.8 85.0 354.2 85.5 349.8 86.0 351.2 86.5 349.3 87.0 351.3 87.5 349.6 88.0 355.3 88.5 349.5 89.0 355.6 89.5 349.7 90.0 355.7 90.5 349.6 91.0 353.6 91.5 350.0 92.0 353.7 92.5 350.3 93.0 353.6 93.5 347.1 94.0 352.4 94.5 347.0 95.0 352.3 95.5 347.3 96.0 352.2 96.5 350.5 97.0 351.5 97.5 350.1 98.0 351.6 98.5 350.1 99.0 351.9 99.5 350.4 100.0 351.5 100.5 346.6 101.0 351.9 101.5 346.5 102.0 352.0 102.5 346.5 103.0 352.0 103.5 349.1 104.0 355.3 104.5 349.2 105.0 354.9 105.5 349.5 106.0 355.2 106.5 348.2 107.0 352.3 107.5 347.9 108.0 352.5 108.5 347.9 109.0 351.7 109.5 349.8 110.0 351.8 110.5 350.0 111.0 352.2 111.5 349.8 112.0 355.1 112.5 347.3 113.0 354.7 113.5 347.5 114.0 354.8 114.5 346.5 115.0 351.5 115.5 346.5 116.0 351.5 116.5 346.6 117.0 351.4 117.5 346.5 118.0 351.0 118.5 346.5 119.0 350.9 119.5 346.4 120.0 350.9 120.5 346.8 121.0 351.0 121.5 349.1 122.0 353.6 122.5 349.2 123.0 354.0 123.5 349.1 124.0 353.6 124.5 349.1 125.0 353.9 125.5 348.8 126.0 355.4 126.5 348.3 127.0 355.0 127.5 346.4 128.0 353.1 128.5 346.2 129.0 352.7 129.5 346.5 130.0 353.3 130.5 346.4 131.0 353.4 131.5 348.9 132.0 354.8 132.5 348.9 133.0 355.0 133.5 349.3 134.0 354.5 134.5 349.2 135.0 354.7 135.5 351.7 136.0 354.5 136.5 351.4 137.0 354.7 137.5 351.7 138.0 354.2 138.5 351.9 139.0 354.7 139.5 344.8 140.0 351.9 140.5 345.0 141.0 351.9 141.5 345.0 142.0 352.1 142.5 344.9 143.0 351.2 143.5 351.2 144.0 350.8 144.5 350.8 145.0 353.3 145.5 348.6 146.0 352.9 146.5 348.9 147.0 353.4 147.5 348.9 148.0 353.1 148.5 349.2 149.0 351.1 149.5 347.9 150.0 351.6 150.5 347.9 151.0 351.3 151.5 348.0 152.0 351.3 152.5 347.7 153.0 355.4 153.5 351.1 154.0 355.5 154.5 349.7 155.0 354.6 155.5 347.3 156.0 353.2 156.5 346.8 157.0 347.6 157.5 344.9 158.0 346.7 158.5 339.6 159.0 338.8 159.5 331.9 160.0 327.0 160.0 334.8 160.5 323.8 161.0 327.0 161.0 334.4 161.5 323.8 162.0 334.7 162.5 323.6 163.0 334.5 163.5 324.1 164.0 332.2 164.5 325.8 165.0 332.2 165.5 326.0 166.0 330.8 166.5 324.6 167.0 330.6 167.5 325.0 168.0 330.7 168.5 325.1 169.0 331.0 169.5 325.0 170.0 332.6 170.5 323.6 171.0 332.3 171.5 323.9 172.0 333.2 172.5 324.7 173.0 332.8 173.5 324.3 174.0 333.1 174.5 322.7 175.0 331.8 175.5 322.4 176.0 331.6 176.5 322.3 177.0 331.7 177.5 322.4 178.0 332.0 178.5 327.0 179.0 331.8 179.5 327.0 180.0 331.9 180.5 326.8 181.0 330.9 181.5 327.2 182.0 330.9 182.5 327.0 183.0 330.9 183.5 327.0 184.0 330.8 184.5 324.6 185.0 330.7 185.5 325.0 186.0 331.7 186.5 321.7 187.0 332.0 187.5 321.6 188.0 331.5 188.5 322.1 189.0 331.7 189.5 323.1 190.0 332.6 190.5 323.0 191.0 332.7 191.5 324.3 192.0 330.8 192.5 324.2 193.0 330.7 193.5 324.2 194.0 331.0 194.5 324.9 195.0 335.1 195.5 325.0 196.0 334.9 196.5 325.1 197.0 335.3 197.5 324.4 198.0 331.0 198.5 323.9 199.0 330.9 199.5 324.2 200.0 331.0 200.5 322.7 201.0 330.7 201.5 322.7 202.0 330.7 202.5 322.1 203.0 334.1 203.5 326.1 204.0 334.2 204.5 325.7 205.0 333.9 205.5 325.6 206.0 333.7 206.5 321.8 207.0 329.2 207.5 321.9 208.0 329.0 208.5 322.0 209.0 329.4 209.5 321.4 210.0 332.4 210.5 321.3 211.0 331.9 211.5 321.7 212.0 331.8 212.5 321.8 213.0 331.4 213.5 322.3 214.0 331.1 214.5 322.5 215.0 331.8 215.5 322.2 216.0 332.0 216.5 324.2 217.0 330.8 217.5 324.1 218.0 331.0 218.5 324.3 219.0 331.6 219.5 324.3 220.0 331.7 220.5 323.6 221.0 335.4 221.5 323.8 222.0 335.8 222.5 324.4 223.0 332.2 223.5 326.0 224.0 332.7 224.5 327.6 225.0 332.8 225.5 328.5 226.0 333.1 226.5 327.3 227.0 338.0 227.5 328.6 228.0 338.3 228.5 330.0 229.0 338.3 229.5 331.2 230.0 338.5 230.5 333.7 231.0 338.7 231.5 333.2 232.0 339.0 232.5 333.6 233.0 334.2 233.5 332.8 234.0 334.4 234.5 332.9 235.0 334.4 235.5 333.2 236.0 335.6 236.5 333.9 237.0 335.4 237.5 333.6 238.0 336.4 238.5 334.4 239.0 336.6 239.5 334.5 240.0 334.6 240.5 330.7 241.0 334.6 241.5 330.6 242.0 334.8 242.5 330.8 243.0 335.0 243.5 334.9 244.0 336.2 244.5 335.3 245.0 335.9 245.5 334.7 246.0 336.2 246.5 332.2 247.0 338.0 247.5 332.2 248.0 338.3 248.5 332.5 249.0 334.9 249.5 330.0 250.0 335.1 250.5 329.9 251.0 337.4 251.5 334.5 252.0 337.8 252.5 334.7 253.0 337.6 253.5 334.9 254.0 337.5 254.5 330.3 255.0 334.5 255.5 330.6 256.0 334.2 256.5 330.4 257.0 334.4 257.5 331.0 258.0 335.5 258.5 331.2 259.0 335.4 259.5 330.9 260.0 335.2 260.5 331.3 261.0 336.6 261.5 331.9 262.0 336.8 262.5 331.3 263.0 336.3 263.5 333.2 264.0 337.4 264.5 332.2 265.0 337.0 265.5 331.6 266.0 336.6 266.5 331.2 267.0 336.1 267.5 330.4 268.0 335.7 268.5 330.3 269.0 333.4 269.5 326.9 270.0 333.5 270.5 326.5 271.0 333.4 271.5 325.7 272.0 335.1 272.5 325.3 273.0 335.2 273.5 324.8 274.0 334.8 274.5 328.7" stroke="#3f99b3"/>
<path d="M347.5 214.0 349.5 214.0 350.0 240.8 350.2 335.0 350.7 333.7 350.8 335.0 351.3 241.7 351.9 332.9 352.6 241.5 353.1 334.5 353.8 241.2 354.4 332.9 354.9 240.0 355.5 334.3 356.0 240.5 356.6 331.7 357.2 241.5 357.7 323.3 358.2 240.7 358.8 322.9 359.4 241.0 360.0 322.9 360.7 239.6 361.3 321.6 361.8 234.6 362.3 322.1 363.0 231.1 363.6 322.9 364.1 231.7 364.7 323.6 365.4 243.2 366.0 322.5 366.6 247.1 367.2 321.8 367.8 246.5 368.3 322.3 368.9 246.9 369.4 323.7 369.4 366.0 370.0 246.5 370.2 366.0 370.6 323.4 371.2 246.4 371.9 322.5 371.5 250.0 372.2 262.0 377.5 266.0 378.0 292.0 378.5 272.0 380.3 272.0 380.6 301.2 382.3 301.2 383.0 299.1 383.9 299.1 384.7 310.3 386.0 310.3 386.7 300.9 387.6 300.9 388.4 321.3 389.5 321.3 390.2 305.9 390.6 305.9 391.0 315.6 392.2 315.6 393.1 294.1 393.8 294.1 394.4 314.8 395.0 314.8 395.8 301.4 396.6 301.4 397.4 327.8 399.2 327.8 399.6 300.4 400.3 300.4 400.9 312.9 401.5 312.9 402.2 302.0 403.0 302.0 403.3 315.8 404.3 315.8 404.9 305.3 405.3 305.3 406.2 311.9 406.9 311.9 407.7 307.2 408.5 307.2 408.5 293.0 409.0 316.0 411.0 316.0 411.3 288.0 423.5 288.0 424.0 340.0 426.0 340.0 429.0 336.0 432.0 338.0 433.5 329.0 434.0 345.0 434.5 329.2 435.0 344.5 435.5 329.2 436.0 344.8 436.5 329.0 437.0 344.7 437.5 329.6 438.0 342.2 438.5 329.6 439.0 342.2 439.5 332.4 440.0 345.4 440.5 332.4 441.0 345.8 441.5 332.8 442.0 345.8 442.5 329.1 443.0 341.0 443.5 329.1 444.0 341.3 444.5 329.2 445.0 341.3 445.5 332.3 446.0 345.1 446.5 332.4 447.0 345.3 447.5 332.0 448.0 345.3 448.5 333.0 449.0 346.1 449.5 333.5 450.0 346.0 450.5 333.0 451.0 345.8 451.5 333.3 452.0 345.9 452.5 332.6 453.0 344.2 453.5 332.4 454.0 344.2 454.5 332.9 455.0 344.0 455.5 332.5 456.0 342.1 456.5 333.7 457.0 342.0 457.5 333.8 458.0 342.2 458.5 330.3 459.0 344.0 459.5 330.4 460.0 343.9 460.5 330.6 461.0 344.7 461.5 333.3 462.0 344.5 462.5 333.0 463.0 345.0 463.5 332.8 464.0 344.8 464.5 331.7 465.0 344.7 465.5 331.8 466.0 344.7 466.5 332.0 467.0 345.2 467.5 332.6 468.0 346.3 468.5 332.8 469.0 346.3 469.5 330.2 470.0 344.7 470.5 330.3 471.0 345.8 471.5 332.2 472.0 349.8 472.5 332.9 473.0 351.0 473.5 333.8 474.0 351.7 474.5 338.1 475.0 348.8 475.5 339.2 476.0 349.5 476.5 340.2 477.0 350.4 477.5 340.9 478.0 350.7 478.5 340.4 479.0 352.1 479.5 341.0 480.0 352.7 480.5 341.4 481.0 353.0 481.5 341.8 482.0 351.2 482.5 341.6 483.0 351.5 483.5 341.5 484.0 351.1 484.5 342.0 485.0 348.9 485.5 344.1 486.0 349.2 486.5 343.9 487.0 349.2 487.5 344.4 488.0 351.9 488.5 344.2 489.0 352.2 489.5 344.2 490.0 351.9 490.5 344.1 491.0 351.7 491.5 342.5 492.0 350.8 492.5 342.5 493.0 350.7 493.5 342.2 494.0 350.6 494.5 342.5 495.0 350.0 495.5 341.9 496.0 350.5 496.5 342.0 497.0 353.6 497.5 341.7 498.0 353.4 498.5 341.7 499.0 353.6 499.5 342.2 500.0 351.5 500.5 342.5 501.0 351.5 501.5 341.9 502.0 353.6 502.5 340.8 503.0 353.3 503.5 340.9 504.0 353.2 504.5 340.8 505.0 353.4 505.5 343.1 506.0 349.8 506.5 342.9 507.0 349.5 507.5 343.1 508.0 349.8 508.5 343.3 509.0 349.5 509.5 340.5 510.0 352.9 510.5 340.3 511.0 353.0 511.5 340.4 512.0 353.0 512.5 343.8 513.0 349.2 513.5 343.7 514.0 349.0 514.5 343.7 515.0 349.4 515.5 343.5 516.0 349.1 516.5 342.2 517.0 350.1 517.5 341.9 518.0 349.9 518.5 342.3 519.0 350.1 519.5 340.5 520.0 350.2 520.5 340.5 521.0 350.0 521.5 340.6 522.0 350.3 522.5 343.2 523.0 351.2 523.5 343.2 524.0 350.8 524.5 343.3 525.0 351.1 525.5 343.5 526.0 352.5 526.5 341.9 527.0 352.7 527.5 342.1 528.0 353.2 528.5 340.1 529.0 353.1 529.5 340.5 530.0 353.4 530.5 343.0 531.0 349.6 531.5 343.2 532.0 349.2 532.5 342.9 533.0 349.1 533.5 343.4 534.0 349.6 534.5 344.5 535.0 352.7 535.5 344.3 536.0 352.5 536.5 344.5 537.0 352.9 537.5 340.2 538.0 349.5 538.5 340.2 539.0 349.2 539.5 339.7 540.0 349.0 540.5 339.9 541.0 353.8 541.5 344.3 542.0 353.9 542.5 344.3 543.0 353.9 543.5 344.7 544.0 349.6 544.5 343.7 545.0 349.8 545.5 343.8 546.0 349.8 546.5 343.8 547.0 350.2 547.5 343.5 548.0 353.5 548.5 342.4 549.0 353.7 549.5 342.7 550.0 353.7 550.5 342.7 551.0 353.7 551.5 344.7 552.0 352.4 552.5 344.5 553.0 352.0 553.5 344.6 554.0 352.2 554.5 341.6 555.0 353.2 555.5 342.4 556.0 353.7 556.5 343.0 557.0 353.7 557.5 344.0 558.0 353.9 558.5 343.8 559.0 352.6 559.5 344.4 560.0 352.8 560.5 343.9 561.0 350.3 561.5 343.9 562.0 350.4 562.5 343.9 563.0 352.2 563.5 344.4 564.0 352.4 564.5 344.3 565.0 352.3 565.5 347.4 566.0 351.3 566.5 347.1 567.0 351.1 567.5 346.4 568.0 353.7 568.5 346.4 569.0 354.2 569.5 346.4 570.0 354.2 570.5 346.0 571.0 353.8 571.5 347.4 572.0 350.3 572.5 347.2 573.0 350.1 573.5 347.3 574.0 354.3 574.5 344.1 575.0 354.1 575.5 343.9 576.0 354.3 576.5 343.7 577.0 349.6 577.5 347.1 578.0 349.6 578.5 347.3 579.0 349.6 579.5 346.9 580.0 350.1 580.5 346.1 581.0 350.3 581.5 345.7 582.0 350.5 582.5 347.8 583.0 350.4 583.5 347.9 584.0 350.2 584.5 347.8 585.0 352.4 585.5 348.5 586.0 351.8 586.5 348.5 587.0 352.2 587.5 348.4 588.0 352.4 588.5 347.3 589.0 353.1 589.5 346.7 590.0 352.7 590.5 347.2 591.0 353.1 591.5 345.1 592.0 352.3 592.5 344.5 593.0 352.1 593.5 344.7 594.0 352.0 594.5 344.5 595.0 351.9 595.5 346.7 596.0 352.6 596.5 346.6 597.0 352.2 597.5 346.5 598.0 352.6 598.5 346.5 599.0 352.1 599.5 347.6 600.0 349.9 600.5 347.6 601.0 350.0 601.5 347.3 602.0 349.7 602.5 347.2 603.0 349.3 603.5 347.5 604.0 353.2 604.5 347.1 605.0 353.2 605.5 343.1 606.0 351.5 606.5 343.0 607.0 351.3 607.5 342.5 608.0 351.7 608.5 342.7 609.0 351.5 609.5 343.7 610.0 352.8 610.5 343.8 611.0 353.3 611.5 344.2 612.0 352.9 612.5 344.1 613.0 353.2 613.5 343.1 614.0 352.9 614.5 343.1 615.0 353.3 615.5 343.0 616.0 353.0 616.5 342.9 617.0 352.9 617.5 345.3 618.0 352.8 618.5 345.3 619.0 352.8 619.5 345.2 620.0 352.9 620.5 343.6 621.0 352.8 621.5 343.8 622.0 348.8 622.5 344.1 623.0 348.8 623.5 343.8 624.0 348.9 624.5 344.7 625.0 350.2 625.5 344.6 626.0 350.2 626.5 344.4 627.0 350.3 627.5 346.0 628.0 347.8 628.5 345.5 629.0 347.9 629.5 345.8 630.0 347.7 630.5 345.9 631.0 347.9 631.5 347.7 632.0 348.8 632.5 348.1 633.0 349.3 633.5 347.9 634.0 349.0 634.5 348.0 635.0 349.2 635.5 343.0 636.0 349.8 636.5 342.9 637.0 349.4 637.5 343.0 638.0 349.8 638.5 343.0 639.0 349.4 639.5 345.2 640.0 355.3 640.5 345.5 641.0 355.0 641.5 345.1 642.0 355.2 642.5 344.6 643.0 348.6 643.5 344.4 644.0 348.1 644.5 344.0 645.0 349.4 645.5 343.0 646.0 349.6 646.5 342.9 647.0 349.4 647.5 342.9 648.0 349.6 648.5 342.7 649.0 351.3 649.5 342.9 650.0 351.1 650.5 342.8 651.0 351.4 651.5 343.0 652.0 351.4 652.5 343.1 653.0 349.9 653.5 343.9 654.0 350.0 654.5 343.8 655.0 349.7 655.5 343.7 656.0 349.9 656.5 343.3 657.0 349.1 657.5 343.3 658.0 349.0 658.5 343.3 659.0 349.3 659.5 343.7 660.0 349.1 660.5 343.5 661.0 352.0 661.5 346.2 662.0 351.8 662.5 346.1 663.0 352.1 663.5 346.2 664.0 348.7 664.5 347.4 665.0 349.0 665.5 347.3 666.0 348.4 666.5 347.0 667.0 348.8 667.5 347.0 668.0 349.5 668.5 344.5 669.0 349.1 669.5 344.9 670.0 349.2 670.5 344.4 671.0 347.9 671.5 340.6 672.0 347.8 672.5 340.5 673.0 348.2 673.5 340.7 674.0 347.8 674.5 340.3 675.0 346.5 675.5 344.2 676.0 346.2 676.5 344.0 677.0 346.2 677.5 344.3 678.0 346.0 678.5 346.4 679.0 349.0 679.5 346.2 680.0 348.8 680.5 347.0 681.0 350.5 681.5 347.0" stroke="#3f99b3"/>
<path d="M34.5 346.4 35.0 354.5 35.5 345.9 36.0 353.8 36.5 345.5 37.0 353.7 37.5 345.2 38.0 350.7 38.5 344.6 39.0 350.2 39.5 344.2 40.0 349.5 40.5 343.7 41.0 347.1 41.5 343.7 42.0 346.9 42.5 342.9 43.0 346.3 43.5 340.4 44.0 345.7 44.5 340.0 45.0 348.9 45.5 338.7 46.0 348.9 46.5 339.2 47.0 348.8 47.5 343.4 48.0 349.6 48.5 343.3 49.0 350.0 49.5 343.1 50.0 349.7 50.5 343.4 51.0 346.1 51.5 340.7 52.0 346.0 52.5 340.2 53.0 346.0 53.5 340.2 54.0 348.0 54.5 337.6 55.0 348.1 55.5 337.4 56.0 347.7 56.5 339.0 57.0 346.1 57.5 338.9 58.0 346.3 58.5 342.1 59.0 350.1 59.5 342.4 60.0 350.0 60.5 342.6 61.0 350.0 61.5 342.2 62.0 350.1 62.5 339.1 63.0 350.2 63.5 339.3 64.0 350.1 64.5 339.2 65.0 350.2 65.5 339.2 66.0 350.3 66.5 339.0 67.0 349.6 67.5 339.0 68.0 349.8 68.5 339.0 69.0 348.0 69.5 341.1 70.0 348.2 70.5 340.9 71.0 348.2 71.5 341.2 72.0 348.2 72.5 340.7 73.0 349.5 73.5 339.2 74.0 349.4 74.5 338.7 75.0 349.5 75.5 338.8 76.0 347.5 76.5 341.5 77.0 347.2 77.5 341.5 78.0 347.4 78.5 343.0 79.0 347.9 79.5 342.8 80.0 347.8 80.5 343.1 81.0 350.8 81.5 340.8 82.0 350.6 82.5 340.3 83.0 350.4 83.5 341.5 84.0 347.4 84.5 341.8 85.0 347.6 85.5 341.4 86.0 347.6 86.5 341.4 87.0 346.7 87.5 338.6 88.0 346.9 88.5 338.5 89.0 346.5 89.5 338.6 90.0 346.8 90.5 338.6 91.0 345.6 91.5 342.1 92.0 345.4 92.5 342.2 93.0 345.7 93.5 340.1 94.0 347.3 94.5 339.9 95.0 346.7 95.5 340.0 96.0 346.1 96.5 339.4 97.0 346.2 97.5 339.8 98.0 345.6 98.5 339.2 99.0 345.6 99.5 339.2 100.0 345.4 100.5 339.8 101.0 348.8 101.5 339.8 102.0 349.1 102.5 339.9 103.0 347.3 103.5 339.6 104.0 347.4 104.5 339.5 105.0 346.9 105.5 337.9 106.0 343.1 106.5 337.9 107.0 343.0 107.5 336.2 108.0 348.9 108.5 336.0 109.0 348.9 109.5 335.8 110.0 346.8 110.5 335.4 111.0 347.2 111.5 335.5 112.0 347.2 112.5 337.6 113.0 347.0 113.5 337.7 114.0 345.1 114.5 334.1 115.0 345.1 115.5 334.4 116.0 345.0 116.5 333.9 117.0 345.0 117.5 334.4 118.0 346.0 118.5 340.2 119.0 346.2 119.5 340.0 120.0 345.6 120.5 339.4 121.0 345.4 121.5 339.4 122.0 345.8 122.5 339.5 123.0 348.6 123.5 335.5 124.0 349.0 124.5 335.7 125.0 347.9 125.5 338.1 126.0 347.6 126.5 337.9 127.0 348.2 127.5 337.3 128.0 345.2 128.5 337.1 129.0 345.2 129.5 337.3 130.0 342.2 130.5 336.8 131.0 342.1 131.5 336.8 132.0 342.1 132.5 337.1 133.0 342.2 133.5 337.0 134.0 346.6 134.5 337.4 135.0 346.6 135.5 337.4 136.0 346.8 136.5 339.1 137.0 347.1 137.5 339.0 138.0 346.8 138.5 339.2 139.0 346.6 139.5 336.2 140.0 349.9 140.5 336.8 141.0 350.3 141.5 336.9 142.0 350.3 142.5 338.8 143.0 348.9 143.5 339.3 144.0 349.1 144.5 339.1 145.0 343.6 145.5 336.5 146.0 344.1 146.5 336.1 147.0 343.7 147.5 336.6 148.0 343.9 148.5 340.1 149.0 346.9 149.5 340.0 150.0 347.0 150.5 340.3 151.0 345.5 151.5 338.3 152.0 345.9 152.5 338.8 153.0 345.7 153.5 340.8 154.0 350.2 154.5 340.5 155.0 350.9 155.5 340.4 156.0 350.8 156.5 334.6 157.0 346.9 157.5 334.6 158.0 347.2 158.5 334.8 159.0 347.2 159.5 334.6 160.0 347.5 160.5 340.4 161.0 350.9 161.5 340.5 162.0 351.0 162.5 339.6 163.0 348.9 163.5 337.3 164.0 344.0 164.5 331.8 165.0 341.7 165.5 329.4 166.0 339.7 166.5 329.2 167.0 344.3 167.5 328.9 168.0 344.3 168.5 329.1 169.0 344.5 169.5 329.1 170.0 336.2 170.5 329.7 171.0 336.0 171.5 329.5 172.0 343.4 172.5 329.5 173.0 343.5 173.5 329.3 174.0 343.6 174.5 329.3 175.0 335.5 175.5 327.3 176.0 335.9 176.5 327.6 177.0 335.6 177.5 327.3 178.0 344.3 178.5 327.6 179.0 344.3 179.5 327.8 180.0 344.4 180.5 327.8 181.0 344.3 181.5 331.3 182.0 338.8 182.5 331.3 183.0 339.0 183.5 327.1 184.0 341.7 184.5 327.0 185.0 342.0 185.5 327.0 186.0 343.5 186.5 327.0 187.0 343.3 187.5 327.4 188.0 343.3 188.5 326.9 189.0 338.1 189.5 331.2 190.0 338.1 190.5 331.1 191.0 337.9 191.5 331.1 192.0 337.7 192.5 330.8 193.0 339.6 193.5 330.9 194.0 339.9 194.5 330.5 195.0 339.6 195.5 330.9 196.0 339.5 196.5 330.7 197.0 343.3 197.5 331.5 198.0 343.1 198.5 331.4 199.0 342.9 199.5 326.9 200.0 342.5 200.5 326.9 201.0 342.3 201.5 327.0 202.0 340.8 202.5 326.4 203.0 340.9 203.5 326.3 204.0 340.6 204.5 326.6 205.0 340.8 205.5 326.5 206.0 344.5 206.5 327.1 207.0 344.3 207.5 327.3 208.0 344.2 208.5 327.3 209.0 344.1 209.5 330.0 210.0 339.9 210.5 329.8 211.0 339.8 211.5 329.8 212.0 339.7 212.5 330.2 213.0 336.9 213.5 327.8 214.0 336.9 214.5 327.5 215.0 336.5 215.5 325.9 216.0 335.6 216.5 325.7 217.0 335.0 217.5 325.7 218.0 334.7 218.5 325.1 219.0 334.6 219.5 325.4 220.0 332.9 220.5 325.4 221.0 332.0 221.5 324.7 222.0 332.0 222.5 324.7 223.0 331.3 223.5 327.0 224.0 332.5 224.5 326.5 225.0 331.8 225.5 326.5 226.0 332.2 226.5 326.5 227.0 332.1 227.5 324.2 228.0 336.7 228.5 324.2 229.0 336.8 229.5 324.3 230.0 336.8 230.5 325.3 231.0 333.4 231.5 325.4 232.0 333.1 232.5 325.3 233.0 333.4 233.5 324.8 234.0 337.3 234.5 323.7 235.0 336.8 235.5 323.4 236.0 336.7 236.5 323.4 237.0 337.1 237.5 323.6 238.0 335.8 238.5 322.0 239.0 336.0 239.5 321.7 240.0 335.6 240.5 321.7 241.0 335.9 241.5 325.0 242.0 335.6 242.5 325.1 243.0 335.1 243.5 324.9 244.0 335.2 244.5 324.8 245.0 329.0 245.5 320.7 246.0 329.5 246.5 320.6 247.0 329.2 247.5 322.8 248.0 336.0 248.5 322.5 249.0 336.4 249.5 320.5 250.0 334.9 250.5 320.4 251.0 334.7 251.5 320.2 252.0 335.2 252.5 319.9 253.0 334.8 253.5 319.3 254.0 334.2 254.5 318.8 255.0 334.6 255.5 318.7 256.0 334.6 256.5 318.2 257.0 332.4 257.5 319.3 258.0 332.4 258.5 318.9 259.0 334.1 259.5 317.3 260.0 333.3 260.5 317.5 261.0 329.1 261.5 320.8 262.0 328.7 262.5 320.2 263.0 328.6 263.5 320.3 264.0 328.3 264.5 320.1 265.0 328.0 265.5 314.0 266.0 328.0 266.5 313.1 267.0 327.0 267.5 311.8 268.0 326.3 268.5 310.4 269.0 330.9 269.5 315.3 270.0 330.8 270.5 313.7 271.0 330.3 271.5 309.7 272.0 329.9 272.5 305.0 272.5 308.4 273.0 329.5 273.5 306.0 273.5 307.4 274.0 329.4 274.5 306.8" stroke="#e3832f"/>
<path d="M346.8 140.0 348.6 140.0 349.3 176.0 355.5 178.0 356.5 210.0 358.5 152.0 360.3 152.0 361.0 243.0 361.8 160.0 363.5 171.0 365.5 169.0 366.5 216.0 368.0 212.0 371.8 175.0 372.8 210.0 374.0 190.0 376.5 170.0 378.8 170.0 379.5 230.0 380.5 260.0 381.5 290.0 389.5 290.0 389.8 250.0 390.3 290.0 409.5 290.0 410.0 230.0 411.5 220.0 413.0 199.0 415.5 199.0 416.4 194.0 417.2 199.0 420.5 201.5 421.0 223.7 422.0 203.0 422.6 223.7 423.4 203.0 424.0 223.7 424.8 201.5 424.6 171.0 428.3 171.0 428.8 300.0 429.5 358.0 430.5 330.0 431.5 316.0 433.0 315.0 433.5 314.9 434.0 333.8 434.5 315.3 435.0 334.4 435.5 315.0 436.0 334.0 436.5 315.4 437.0 334.3 437.5 316.5 438.0 327.7 438.5 316.5 439.0 327.4 439.5 316.7 440.0 327.9 440.5 316.8 441.0 333.2 441.5 317.2 442.0 333.1 442.5 317.5 443.0 333.2 443.5 320.7 444.0 334.3 444.5 320.9 445.0 334.3 445.5 321.1 446.0 334.7 446.5 321.5 447.0 334.4 447.5 320.0 448.0 330.8 448.5 320.2 449.0 331.2 449.5 322.5 450.0 335.8 450.5 322.3 451.0 336.3 451.5 323.1 452.0 332.4 452.5 324.4 453.0 332.2 453.5 324.4 454.0 332.7 454.5 319.8 455.0 337.2 455.5 320.6 456.0 337.4 456.5 324.0 457.0 333.6 457.5 324.2 458.0 333.8 458.5 324.6 459.0 336.4 459.5 328.9 460.0 336.3 460.5 329.2 461.0 337.4 461.5 323.8 462.0 337.5 462.5 324.1 463.0 337.3 463.5 324.0 464.0 334.4 464.5 323.4 465.0 334.6 465.5 323.7 466.0 334.6 466.5 323.9 467.0 334.6 467.5 326.4 468.0 337.4 468.5 327.0 469.0 337.7 469.5 327.4 470.0 336.5 470.5 327.9 471.0 336.6 471.5 328.2 472.0 336.6 472.5 326.0 473.0 336.8 473.5 326.3 474.0 337.1 474.5 327.1 475.0 334.9 475.5 324.3 476.0 335.1 476.5 324.6 477.0 335.1 477.5 324.5 478.0 335.4 478.5 327.0 479.0 334.2 479.5 327.0 480.0 334.2 480.5 327.6 481.0 334.1 481.5 326.7 482.0 338.4 482.5 327.3 483.0 338.5 483.5 326.8 484.0 333.5 484.5 326.7 485.0 333.3 485.5 326.6 486.0 334.3 486.5 329.0 487.0 334.4 487.5 329.1 488.0 334.3 488.5 328.9 489.0 334.1 489.5 329.0 490.0 335.2 490.5 330.5 491.0 335.5 491.5 330.3 492.0 335.0 492.5 330.6 493.0 337.2 493.5 326.5 494.0 337.6 494.5 326.5 495.0 337.5 495.5 326.4 496.0 334.7 496.5 330.0 497.0 334.5 497.5 329.7 498.0 334.5 498.5 329.5 499.0 335.3 499.5 331.5 500.0 335.3 500.5 331.8 501.0 335.4 501.5 329.9 502.0 334.8 502.5 330.0 503.0 335.0 503.5 330.3 504.0 333.6 504.5 328.0 505.0 333.6 505.5 328.6 506.0 333.5 506.5 328.1 507.0 338.7 507.5 326.5 508.0 338.4 508.5 326.4 509.0 338.3 509.5 326.9 510.0 338.3 510.5 327.6 511.0 336.0 511.5 328.0 512.0 335.4 512.5 327.9 513.0 335.7 513.5 330.2 514.0 334.1 514.5 330.5 515.0 333.9 515.5 330.0 516.0 334.1 516.5 326.5 517.0 333.9 517.5 326.5 518.0 334.1 518.5 326.3 519.0 334.0 519.5 326.1 520.0 334.2 520.5 325.3 521.0 338.9 521.5 325.3 522.0 338.7 522.5 326.9 523.0 332.7 523.5 327.1 524.0 333.1 524.5 326.8 525.0 332.6 525.5 326.7 526.0 332.9 526.5 326.9 527.0 338.4 527.5 326.8 528.0 338.2 528.5 332.9 529.0 338.3 529.5 332.7 530.0 338.4 530.5 327.7 531.0 339.1 531.5 327.7 532.0 339.1 532.5 327.7 533.0 335.9 533.5 331.3 534.0 335.9 534.5 330.9 535.0 337.9 535.5 327.5 536.0 337.6 536.5 327.3 537.0 337.9 537.5 327.4 538.0 336.7 538.5 330.1 539.0 336.7 539.5 330.7 540.0 336.8 540.5 330.5 541.0 336.3 541.5 329.6 542.0 336.6 542.5 329.5 543.0 336.7 543.5 329.2 544.0 336.5 544.5 326.1 545.0 336.4 545.5 325.9 546.0 336.3 546.5 325.8 547.0 336.7 547.5 326.1 548.0 338.5 548.5 329.7 549.0 338.6 549.5 330.2 550.0 338.2 550.5 329.6 551.0 336.1 551.5 328.8 552.0 336.4 552.5 328.8 553.0 336.6 553.5 329.3 554.0 336.4 554.5 329.2 555.0 332.2 555.5 328.5 556.0 336.7 556.5 332.8 557.0 341.6 557.5 352.0 557.5 337.5 558.0 346.6 558.5 339.4 559.0 352.1 559.5 342.5 560.0 352.4 560.5 342.4 561.0 352.1 561.5 342.3 562.0 352.8 562.5 341.7 563.0 352.8 563.5 341.3 564.0 352.9 564.5 341.3 565.0 350.6 565.5 339.1 566.0 350.5 566.5 339.3 567.0 350.8 567.5 338.9 568.0 350.4 568.5 341.8 569.0 348.7 569.5 341.4 570.0 348.9 570.5 341.6 571.0 352.2 571.5 343.4 572.0 352.2 572.5 343.0 573.0 351.8 573.5 343.1 574.0 351.7 574.5 343.0 575.0 353.6 575.5 341.9 576.0 353.9 576.5 341.7 577.0 354.0 577.5 341.6 578.0 353.8 578.5 341.6 579.0 350.7 579.5 341.1 580.0 350.4 580.5 341.1 581.0 350.4 581.5 340.0 582.0 354.4 582.5 340.5 583.0 354.8 583.5 340.1 584.0 354.7 584.5 340.2 585.0 353.0 585.5 340.8 586.0 353.2 586.5 340.5 587.0 353.1 587.5 340.5 588.0 353.2 588.5 340.4 589.0 352.2 589.5 340.7 590.0 351.7 590.5 340.4 591.0 351.8 591.5 340.4 592.0 352.0 592.5 341.0 593.0 351.0 593.5 341.3 594.0 350.4 594.5 341.2 595.0 352.3 595.5 343.9 596.0 352.3 596.5 344.1 597.0 351.1 597.5 339.9 598.0 351.3 598.5 339.9 599.0 353.9 599.5 339.6 600.0 353.7 600.5 339.2 601.0 353.7 601.5 343.4 602.0 353.6 602.5 343.5 603.0 353.8 603.5 342.9 604.0 353.4 604.5 342.9 605.0 352.5 605.5 343.7 606.0 352.4 606.5 343.2 607.0 352.4 607.5 343.5 608.0 352.4 608.5 341.3 609.0 352.6 609.5 341.4 610.0 353.0 610.5 341.1 611.0 352.6 611.5 341.4 612.0 352.6 612.5 344.4 613.0 350.1 613.5 344.2 614.0 350.7 614.5 342.0 615.0 350.8 615.5 342.1 616.0 350.7 616.5 343.4 617.0 352.2 617.5 343.3 618.0 352.0 618.5 343.2 619.0 352.2 619.5 343.4 620.0 349.2 620.5 343.0 621.0 349.4 621.5 343.0 622.0 349.4 622.5 343.2 623.0 353.9 623.5 342.0 624.0 353.5 624.5 342.1 625.0 353.9 625.5 341.8 626.0 353.7 626.5 341.0 627.0 348.4 627.5 340.9 628.0 348.6 628.5 340.9 629.0 348.5 629.5 340.7 630.0 348.3 630.5 341.1 631.0 351.0 631.5 340.8 632.0 350.9 632.5 340.6 633.0 351.0 633.5 349.8 634.0 354.9 634.5 349.6 635.0 354.9 635.5 343.6 636.0 352.3 636.5 344.0 637.0 351.9 637.5 344.0 638.0 352.0 638.5 343.9 639.0 352.2 639.5 341.4 640.0 350.0 640.5 341.3 641.0 349.8 641.5 341.1 642.0 350.1 642.5 341.4 643.0 350.0 643.5 348.8 644.0 353.5 644.5 348.6 645.0 353.1 645.5 348.8 646.0 353.5 646.5 349.1 647.0 353.1 647.5 344.3 648.0 351.6 648.5 344.1 649.0 351.6 649.5 344.3 650.0 351.0 650.5 344.3 651.0 350.9 651.5 341.2 652.0 353.7 652.5 340.9 653.0 353.6 653.5 341.3 654.0 353.9 654.5 340.9 655.0 347.8 655.5 340.0 656.0 348.1 656.5 340.1 657.0 347.8 657.5 345.0 658.0 352.0 658.5 345.1 659.0 351.9 659.5 345.2 660.0 350.3 660.5 338.2 661.0 350.3 661.5 338.2 662.0 350.4 662.5 338.2 663.0 350.2 663.5 338.2 664.0 350.1 664.5 341.0 665.0 349.7 665.5 341.1 666.0 351.2 666.5 343.7 667.0 351.5 667.5 343.3 668.0 351.7 668.5 343.2 669.0 351.6 669.5 344.0 670.0 350.6 670.5 344.0 671.0 350.3 671.5 343.5 672.0 350.7 672.5 343.5 673.0 357.5 673.5 341.4 674.0 357.9 674.5 340.9 675.0 350.5 675.5 344.4 676.0 350.3 676.5 344.3 677.0 353.5 677.5 344.1 678.0 353.7 678.5 343.7 679.0 353.6 679.5 341.0 680.0 351.3 680.5 341.1 681.0 351.1 681.5 341.3" stroke="#e3832f"/>
</g>
<rect x="34" y="393" width="648" height="5" fill="#8b8b8b"/>
<line x1="702" y1="167.4" x2="729" y2="167.4" stroke="#44709e" stroke-width="3" stroke-linecap="round"/>
<text x="733" y="171.1" font-size="10.6" textLength="44" lengthAdjust="spacingAndGlyphs" fill="#000">EURUSD</text>
<line x1="702" y1="191.7" x2="729" y2="191.7" stroke="#9c4341" stroke-width="3" stroke-linecap="round"/>
<text x="733" y="195.4" font-size="10.6" textLength="44" lengthAdjust="spacingAndGlyphs" fill="#000">GBPUSD</text>
<line x1="702" y1="216" x2="729" y2="216" stroke="#86a04c" stroke-width="3" stroke-linecap="round"/>
<text x="733" y="219.7" font-size="10.6" textLength="44" lengthAdjust="spacingAndGlyphs" fill="#000">USDJPY</text>
<line x1="702" y1="240.1" x2="729" y2="240.1" stroke="#6a568c" stroke-width="3" stroke-linecap="round"/>
<text x="733" y="243.8" font-size="10.6" textLength="44" lengthAdjust="spacingAndGlyphs" fill="#000">AUDUSD</text>
<line x1="702" y1="264.3" x2="729" y2="264.3" stroke="#4390a6" stroke-width="3" stroke-linecap="round"/>
<text x="733" y="268.0" font-size="10.6" textLength="44" lengthAdjust="spacingAndGlyphs" fill="#000">NZDUSD</text>
<line x1="702" y1="288.5" x2="729" y2="288.5" stroke="#c47f44" stroke-width="3" stroke-linecap="round"/>
<text x="733" y="292.2" font-size="10.6" textLength="44" lengthAdjust="spacingAndGlyphs" fill="#000">USDCAD</text>
<defs><filter id="bl" x="-10%" y="-10%" width="120%" height="120%"><feGaussianBlur stdDeviation="0.8"/></filter>
<mask id="wmm" maskUnits="userSpaceOnUse" x="0" y="0" width="793" height="457"><rect x="0" y="0" width="793" height="457" fill="#fff"/>
<text transform="translate(573 413) skewX(-12)" font-family='"Noto Sans CJK SC", "Liberation Sans", sans-serif' font-weight="700" font-size="57" text-anchor="middle" fill="#000">策</text>
<text transform="translate(632 413) skewX(-12)" font-family='"Noto Sans CJK SC", "Liberation Sans", sans-serif' font-weight="700" font-size="57" text-anchor="middle" fill="#000">马</text>
<text transform="translate(691 413) skewX(-12)" font-family='"Noto Sans CJK SC", "Liberation Sans", sans-serif' font-weight="700" font-size="57" text-anchor="middle" fill="#000">财</text>
<text transform="translate(756 413) skewX(-12)" font-family='"Noto Sans CJK SC", "Liberation Sans", sans-serif' font-weight="700" font-size="57" text-anchor="middle" fill="#000">经</text>
</mask></defs>
<g mask="url(#wmm)" filter="url(#bl)" opacity="0.6">
<text transform="translate(576 416) skewX(-12)" font-family='"Noto Sans CJK SC", "Liberation Sans", sans-serif' font-weight="700" font-size="57" text-anchor="middle" fill="#444">策</text>
<text transform="translate(635 416) skewX(-12)" font-family='"Noto Sans CJK SC", "Liberation Sans", sans-serif' font-weight="700" font-size="57" text-anchor="middle" fill="#444">马</text>
<text transform="translate(694 416) skewX(-12)" font-family='"Noto Sans CJK SC", "Liberation Sans", sans-serif' font-weight="700" font-size="57" text-anchor="middle" fill="#444">财</text>
<text transform="translate(759 416) skewX(-12)" font-family='"Noto Sans CJK SC", "Liberation Sans", sans-serif' font-weight="700" font-size="57" text-anchor="middle" fill="#444">经</text>
</g>
<text transform="translate(573 413) skewX(-12)" font-family='"Noto Sans CJK SC", "Liberation Sans", sans-serif' font-weight="700" font-size="57" text-anchor="middle" fill="#fff" opacity="0.78">策</text>
<text transform="translate(632 413) skewX(-12)" font-family='"Noto Sans CJK SC", "Liberation Sans", sans-serif' font-weight="700" font-size="57" text-anchor="middle" fill="#fff" opacity="0.78">马</text>
<text transform="translate(691 413) skewX(-12)" font-family='"Noto Sans CJK SC", "Liberation Sans", sans-serif' font-weight="700" font-size="57" text-anchor="middle" fill="#fff" opacity="0.78">财</text>
<text transform="translate(756 413) skewX(-12)" font-family='"Noto Sans CJK SC", "Liberation Sans", sans-serif' font-weight="700" font-size="57" text-anchor="middle" fill="#fff" opacity="0.78">经</text>
<text transform="translate(568.6 452) skewX(-12)" font-family="Liberation Sans, sans-serif" font-weight="700" font-size="33" text-anchor="middle" fill="#6fa9e7" stroke="#6fa9e7" stroke-width="2.8" stroke-linejoin="round" opacity="0.82">z</text>
<text transform="translate(595 452) skewX(-12)" font-family="Liberation Sans, sans-serif" font-weight="700" font-size="33" text-anchor="middle" fill="#6fa9e7" stroke="#6fa9e7" stroke-width="2.8" stroke-linejoin="round" opacity="0.82">z</text>
<text transform="translate(621 452) skewX(-12)" font-family="Liberation Sans, sans-serif" font-weight="700" font-size="33" text-anchor="middle" fill="#6fa9e7" stroke="#6fa9e7" stroke-width="2.8" stroke-linejoin="round" opacity="0.82">r</text>
<text transform="translate(644 452) skewX(-12)" font-family="Liberation Sans, sans-serif" font-weight="700" font-size="33" text-anchor="middle" fill="#6fa9e7" stroke="#6fa9e7" stroke-width="2.8" stroke-linejoin="round" opacity="0.82">t</text>
<text transform="translate(666.4 452) skewX(-12)" font-family="Liberation Sans, sans-serif" font-weight="700" font-size="33" text-anchor="middle" fill="#6fa9e7" stroke="#6fa9e7" stroke-width="2.8" stroke-linejoin="round" opacity="0.82">0</text>
<text transform="translate(697.3 452) skewX(-12)" font-family="Liberation Sans, sans-serif" font-weight="700" font-size="33" text-anchor="middle" fill="#6fa9e7" stroke="#6fa9e7" stroke-width="2.8" stroke-linejoin="round" opacity="0.82">1</text>
<text transform="translate(719.2 452) skewX(-12)" font-family="Liberation Sans, sans-serif" font-weight="700" font-size="33" text-anchor="middle" fill="#6fa9e7" stroke="#6fa9e7" stroke-width="2.8" stroke-linejoin="round" opacity="0.82">.</text>
<text transform="translate(746 452) skewX(-12)" font-family="Liberation Sans, sans-serif" font-weight="700" font-size="33" text-anchor="middle" fill="#6fa9e7" stroke="#6fa9e7" stroke-width="2.8" stroke-linejoin="round" opacity="0.82">c</text>
<text transform="translate(771.2 452) skewX(-12)" font-family="Liberation Sans, sans-serif" font-weight="700" font-size="33" text-anchor="middle" fill="#6fa9e7" stroke="#6fa9e7" stroke-width="2.8" stroke-linejoin="round" opacity="0.82">n</text>
</svg>
<div style="position:absolute;left:0;top:0;width:791px;height:455px;border:1px solid #747474;"></div>
</div></body></html>
